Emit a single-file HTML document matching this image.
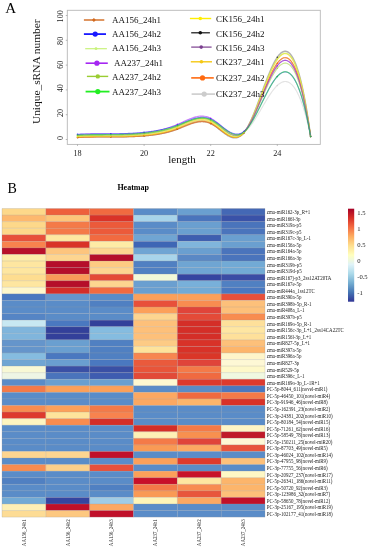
<!DOCTYPE html><html><head><meta charset="utf-8"><style>html,body{margin:0;padding:0;background:#fff;}body{width:369px;height:550px;overflow:hidden;position:relative;}svg{position:absolute;left:0;top:0;display:block;filter:blur(0.3px);}text{font-family:"Liberation Serif",serif;}</style></head><body>
<svg width="369" height="550" viewBox="0 0 369 550">
<rect x="0" y="0" width="369" height="550" fill="#fff"/>
<text transform="translate(5.3,13.4) scale(1.08,0.97)" font-size="14" fill="#000">A</text>
<text transform="translate(40.3,71.7) rotate(-90)" text-anchor="middle" font-size="11.4" fill="#111">Unique_sRNA number</text>
<rect x="67.3" y="10.3" width="253.0" height="134.1" fill="none" stroke="#b8b8b8" stroke-width="0.9"/>
<line x1="65.8" y1="139.50" x2="67.3" y2="139.50" stroke="#999" stroke-width="0.7"/>
<text transform="translate(63.3,138.00) rotate(-90)" text-anchor="middle" font-size="8.2" fill="#222">0</text>
<line x1="65.8" y1="114.70" x2="67.3" y2="114.70" stroke="#999" stroke-width="0.7"/>
<text transform="translate(63.3,112.90) rotate(-90)" text-anchor="middle" font-size="8.2" fill="#222">20</text>
<line x1="65.8" y1="89.90" x2="67.3" y2="89.90" stroke="#999" stroke-width="0.7"/>
<text transform="translate(63.3,88.20) rotate(-90)" text-anchor="middle" font-size="8.2" fill="#222">40</text>
<line x1="65.8" y1="65.10" x2="67.3" y2="65.10" stroke="#999" stroke-width="0.7"/>
<text transform="translate(63.3,64.70) rotate(-90)" text-anchor="middle" font-size="8.2" fill="#222">60</text>
<line x1="65.8" y1="40.30" x2="67.3" y2="40.30" stroke="#999" stroke-width="0.7"/>
<text transform="translate(63.3,40.80) rotate(-90)" text-anchor="middle" font-size="8.2" fill="#222">80</text>
<line x1="65.8" y1="15.50" x2="67.3" y2="15.50" stroke="#999" stroke-width="0.7"/>
<text transform="translate(63.3,16.30) rotate(-90)" text-anchor="middle" font-size="8.2" fill="#222">100</text>
<line x1="77.50" y1="144.4" x2="77.50" y2="145.9" stroke="#999" stroke-width="0.7"/>
<text x="77.50" y="156.3" text-anchor="middle" font-size="8.2" fill="#222">18</text>
<line x1="144.10" y1="144.4" x2="144.10" y2="145.9" stroke="#999" stroke-width="0.7"/>
<text x="144.10" y="156.3" text-anchor="middle" font-size="8.2" fill="#222">20</text>
<line x1="210.70" y1="144.4" x2="210.70" y2="145.9" stroke="#999" stroke-width="0.7"/>
<text x="210.70" y="156.3" text-anchor="middle" font-size="8.2" fill="#222">22</text>
<line x1="277.30" y1="144.4" x2="277.30" y2="145.9" stroke="#999" stroke-width="0.7"/>
<text x="277.30" y="156.3" text-anchor="middle" font-size="8.2" fill="#222">24</text>
<text x="168.3" y="162.6" font-size="11" fill="#111">length</text>
<path d="M77.50,137.39 L78.33,137.34 L79.17,137.29 L80.00,137.24 L80.83,137.20 L81.66,137.16 L82.49,137.12 L83.33,137.09 L84.16,137.05 L84.99,137.02 L85.83,136.99 L86.66,136.97 L87.49,136.94 L88.32,136.92 L89.16,136.90 L89.99,136.88 L90.82,136.86 L91.65,136.85 L92.48,136.84 L93.32,136.82 L94.15,136.81 L94.98,136.80 L95.82,136.80 L96.65,136.79 L97.48,136.78 L98.31,136.78 L99.14,136.78 L99.98,136.77 L100.81,136.77 L101.64,136.77 L102.47,136.77 L103.31,136.77 L104.14,136.77 L104.97,136.77 L105.81,136.77 L106.64,136.77 L107.47,136.77 L108.30,136.77 L109.13,136.77 L109.97,136.77 L110.80,136.77 L111.63,136.77 L112.47,136.77 L113.30,136.77 L114.13,136.77 L114.96,136.77 L115.79,136.76 L116.63,136.76 L117.46,136.75 L118.29,136.75 L119.12,136.74 L119.96,136.73 L120.79,136.73 L121.62,136.72 L122.46,136.71 L123.29,136.69 L124.12,136.68 L124.95,136.66 L125.78,136.65 L126.62,136.63 L127.45,136.61 L128.28,136.59 L129.12,136.57 L129.95,136.54 L130.78,136.51 L131.61,136.49 L132.44,136.46 L133.28,136.42 L134.11,136.39 L134.94,136.35 L135.77,136.31 L136.61,136.27 L137.44,136.23 L138.27,136.18 L139.11,136.13 L139.94,136.08 L140.77,136.02 L141.60,135.97 L142.43,135.91 L143.27,135.85 L144.10,135.78 L144.93,135.71 L145.77,135.64 L146.60,135.56 L147.43,135.49 L148.26,135.40 L149.09,135.32 L149.93,135.23 L150.76,135.13 L151.59,135.04 L152.43,134.93 L153.26,134.83 L154.09,134.71 L154.92,134.60 L155.76,134.48 L156.59,134.35 L157.42,134.21 L158.25,134.08 L159.08,133.93 L159.92,133.78 L160.75,133.63 L161.58,133.46 L162.42,133.29 L163.25,133.12 L164.08,132.94 L164.91,132.75 L165.74,132.55 L166.58,132.35 L167.41,132.13 L168.24,131.92 L169.07,131.69 L169.91,131.45 L170.74,131.21 L171.57,130.96 L172.41,130.70 L173.24,130.43 L174.07,130.16 L174.90,129.87 L175.73,129.58 L176.57,129.27 L177.40,128.96 L178.23,128.64 L179.06,128.31 L179.90,127.97 L180.73,127.63 L181.56,127.28 L182.39,126.93 L183.23,126.58 L184.06,126.23 L184.89,125.88 L185.72,125.53 L186.56,125.19 L187.39,124.85 L188.22,124.53 L189.06,124.20 L189.89,123.89 L190.72,123.59 L191.55,123.31 L192.38,123.03 L193.22,122.78 L194.05,122.54 L194.88,122.31 L195.72,122.11 L196.55,121.93 L197.38,121.77 L198.21,121.63 L199.04,121.52 L199.88,121.44 L200.71,121.38 L201.54,121.35 L202.38,121.36 L203.21,121.39 L204.04,121.46 L204.87,121.56 L205.71,121.70 L206.54,121.88 L207.37,122.10 L208.20,122.35 L209.03,122.65 L209.87,122.99 L210.70,123.38 L211.53,123.81 L212.37,124.28 L213.20,124.79 L214.03,125.34 L214.86,125.91 L215.69,126.51 L216.53,127.13 L217.36,127.77 L218.19,128.42 L219.02,129.08 L219.86,129.74 L220.69,130.41 L221.52,131.07 L222.36,131.73 L223.19,132.37 L224.02,133.00 L224.85,133.60 L225.68,134.19 L226.52,134.74 L227.35,135.27 L228.18,135.75 L229.02,136.20 L229.85,136.60 L230.68,136.96 L231.51,137.26 L232.34,137.51 L233.18,137.69 L234.01,137.81 L234.84,137.86 L235.67,137.84 L236.51,137.74 L237.34,137.55 L238.17,137.29 L239.01,136.93 L239.84,136.48 L240.67,135.93 L241.50,135.28 L242.33,134.53 L243.17,133.66 L244.00,132.68 L244.83,131.58 L245.67,130.37 L246.50,129.06 L247.33,127.64 L248.16,126.13 L248.99,124.52 L249.83,122.84 L250.66,121.07 L251.49,119.23 L252.32,117.33 L253.16,115.36 L253.99,113.34 L254.82,111.27 L255.66,109.15 L256.49,107.00 L257.32,104.81 L258.15,102.60 L258.98,100.36 L259.82,98.11 L260.65,95.85 L261.48,93.58 L262.31,91.32 L263.15,89.06 L263.98,86.82 L264.81,84.59 L265.64,82.39 L266.48,80.22 L267.31,78.08 L268.14,75.98 L268.98,73.94 L269.81,71.94 L270.64,70.00 L271.47,68.13 L272.31,66.33 L273.14,64.60 L273.97,62.95 L274.80,61.39 L275.63,59.92 L276.47,58.55 L277.30,57.29 L278.13,56.13 L278.97,55.09 L279.80,54.16 L280.63,53.36 L281.46,52.68 L282.29,52.13 L283.13,51.71 L283.96,51.42 L284.79,51.28 L285.62,51.28 L286.46,51.42 L287.29,51.72 L288.12,52.17 L288.96,52.78 L289.79,53.55 L290.62,54.49 L291.45,55.59 L292.28,56.87 L293.12,58.33 L293.95,59.97 L294.78,61.79 L295.62,63.80 L296.45,66.00 L297.28,68.40 L298.11,70.99 L298.94,73.79 L299.78,76.80 L300.61,80.02 L301.44,83.45 L302.27,87.10 L303.11,90.97 L303.94,95.06 L304.77,99.39 L305.61,103.95 L306.44,108.74 L307.27,113.78 L308.10,119.06 L308.93,124.59 L309.77,130.37 L310.60,136.40" fill="none" stroke="#111111" stroke-width="1.5" opacity="0.32"/>
<path d="M77.50,135.78 L78.33,135.74 L79.17,135.69 L80.00,135.66 L80.83,135.62 L81.66,135.59 L82.49,135.56 L83.33,135.53 L84.16,135.50 L84.99,135.47 L85.83,135.45 L86.66,135.43 L87.49,135.41 L88.32,135.40 L89.16,135.38 L89.99,135.37 L90.82,135.35 L91.65,135.34 L92.48,135.33 L93.32,135.32 L94.15,135.32 L94.98,135.31 L95.82,135.31 L96.65,135.30 L97.48,135.30 L98.31,135.30 L99.14,135.29 L99.98,135.29 L100.81,135.29 L101.64,135.29 L102.47,135.29 L103.31,135.29 L104.14,135.29 L104.97,135.29 L105.81,135.29 L106.64,135.29 L107.47,135.29 L108.30,135.29 L109.13,135.29 L109.97,135.29 L110.80,135.28 L111.63,135.28 L112.47,135.28 L113.30,135.27 L114.13,135.27 L114.96,135.26 L115.79,135.26 L116.63,135.25 L117.46,135.24 L118.29,135.23 L119.12,135.22 L119.96,135.20 L120.79,135.19 L121.62,135.17 L122.46,135.16 L123.29,135.14 L124.12,135.12 L124.95,135.10 L125.78,135.07 L126.62,135.04 L127.45,135.02 L128.28,134.99 L129.12,134.95 L129.95,134.92 L130.78,134.88 L131.61,134.84 L132.44,134.80 L133.28,134.76 L134.11,134.71 L134.94,134.66 L135.77,134.61 L136.61,134.55 L137.44,134.49 L138.27,134.43 L139.11,134.37 L139.94,134.30 L140.77,134.23 L141.60,134.16 L142.43,134.08 L143.27,134.00 L144.10,133.92 L144.93,133.83 L145.77,133.74 L146.60,133.65 L147.43,133.55 L148.26,133.45 L149.09,133.34 L149.93,133.23 L150.76,133.11 L151.59,132.99 L152.43,132.87 L153.26,132.74 L154.09,132.61 L154.92,132.47 L155.76,132.32 L156.59,132.17 L157.42,132.01 L158.25,131.85 L159.08,131.68 L159.92,131.51 L160.75,131.33 L161.58,131.15 L162.42,130.95 L163.25,130.75 L164.08,130.55 L164.91,130.33 L165.74,130.12 L166.58,129.89 L167.41,129.65 L168.24,129.41 L169.07,129.16 L169.91,128.91 L170.74,128.64 L171.57,128.37 L172.41,128.09 L173.24,127.80 L174.07,127.51 L174.90,127.20 L175.73,126.89 L176.57,126.56 L177.40,126.23 L178.23,125.89 L179.06,125.54 L179.90,125.19 L180.73,124.83 L181.56,124.47 L182.39,124.10 L183.23,123.74 L184.06,123.37 L184.89,123.01 L185.72,122.65 L186.56,122.29 L187.39,121.94 L188.22,121.60 L189.06,121.27 L189.89,120.95 L190.72,120.64 L191.55,120.34 L192.38,120.06 L193.22,119.79 L194.05,119.54 L194.88,119.31 L195.72,119.10 L196.55,118.91 L197.38,118.74 L198.21,118.60 L199.04,118.48 L199.88,118.39 L200.71,118.33 L201.54,118.29 L202.38,118.29 L203.21,118.32 L204.04,118.39 L204.87,118.49 L205.71,118.62 L206.54,118.79 L207.37,119.01 L208.20,119.26 L209.03,119.56 L209.87,119.90 L210.70,120.28 L211.53,120.71 L212.37,121.18 L213.20,121.69 L214.03,122.24 L214.86,122.81 L215.69,123.41 L216.53,124.04 L217.36,124.68 L218.19,125.34 L219.02,126.01 L219.86,126.69 L220.69,127.37 L221.52,128.05 L222.36,128.72 L223.19,129.39 L224.02,130.05 L224.85,130.69 L225.68,131.31 L226.52,131.90 L227.35,132.47 L228.18,133.01 L229.02,133.51 L229.85,133.97 L230.68,134.39 L231.51,134.77 L232.34,135.09 L233.18,135.35 L234.01,135.56 L234.84,135.71 L235.67,135.78 L236.51,135.79 L237.34,135.73 L238.17,135.58 L239.01,135.36 L239.84,135.04 L240.67,134.64 L241.50,134.15 L242.33,133.55 L243.17,132.86 L244.00,132.06 L244.83,131.15 L245.67,130.14 L246.50,129.03 L247.33,127.83 L248.16,126.53 L248.99,125.16 L249.83,123.70 L250.66,122.18 L251.49,120.58 L252.32,118.92 L253.16,117.21 L253.99,115.44 L254.82,113.63 L255.66,111.77 L256.49,109.88 L257.32,107.95 L258.15,106.00 L258.98,104.03 L259.82,102.04 L260.65,100.04 L261.48,98.03 L262.31,96.03 L263.15,94.03 L263.98,92.04 L264.81,90.06 L265.64,88.10 L266.48,86.17 L267.31,84.27 L268.14,82.41 L268.98,80.58 L269.81,78.80 L270.64,77.08 L271.47,75.40 L272.31,73.79 L273.14,72.25 L273.97,70.78 L274.80,69.39 L275.63,68.08 L276.47,66.85 L277.30,65.72 L278.13,64.69 L278.97,63.75 L279.80,62.92 L280.63,62.20 L281.46,61.59 L282.29,61.10 L283.13,60.72 L283.96,60.46 L284.79,60.33 L285.62,60.33 L286.46,60.46 L287.29,60.72 L288.12,61.12 L288.96,61.66 L289.79,62.35 L290.62,63.18 L291.45,64.17 L292.28,65.31 L293.12,66.61 L293.95,68.07 L294.78,69.70 L295.62,71.49 L296.45,73.46 L297.28,75.60 L298.11,77.92 L298.94,80.42 L299.78,83.10 L300.61,85.98 L301.44,89.05 L302.27,92.31 L303.11,95.77 L303.94,99.43 L304.77,103.30 L305.61,107.37 L306.44,111.66 L307.27,116.17 L308.10,120.89 L308.93,125.83 L309.77,131.00 L310.60,136.40" fill="none" stroke="#7b3f8f" stroke-width="1.1" opacity="0.55"/>
<path d="M77.50,137.64 L78.33,137.59 L79.17,137.54 L80.00,137.49 L80.83,137.45 L81.66,137.41 L82.49,137.37 L83.33,137.34 L84.16,137.31 L84.99,137.28 L85.83,137.25 L86.66,137.22 L87.49,137.20 L88.32,137.17 L89.16,137.15 L89.99,137.14 L90.82,137.12 L91.65,137.10 L92.48,137.09 L93.32,137.08 L94.15,137.07 L94.98,137.06 L95.82,137.05 L96.65,137.04 L97.48,137.04 L98.31,137.03 L99.14,137.03 L99.98,137.03 L100.81,137.02 L101.64,137.02 L102.47,137.02 L103.31,137.02 L104.14,137.02 L104.97,137.02 L105.81,137.02 L106.64,137.02 L107.47,137.02 L108.30,137.02 L109.13,137.02 L109.97,137.02 L110.80,137.02 L111.63,137.02 L112.47,137.02 L113.30,137.02 L114.13,137.01 L114.96,137.01 L115.79,137.01 L116.63,137.00 L117.46,137.00 L118.29,136.99 L119.12,136.99 L119.96,136.98 L120.79,136.97 L121.62,136.96 L122.46,136.95 L123.29,136.94 L124.12,136.92 L124.95,136.91 L125.78,136.89 L126.62,136.87 L127.45,136.85 L128.28,136.83 L129.12,136.81 L129.95,136.79 L130.78,136.76 L131.61,136.73 L132.44,136.70 L133.28,136.67 L134.11,136.63 L134.94,136.60 L135.77,136.56 L136.61,136.52 L137.44,136.47 L138.27,136.43 L139.11,136.38 L139.94,136.33 L140.77,136.27 L141.60,136.21 L142.43,136.16 L143.27,136.09 L144.10,136.03 L144.93,135.96 L145.77,135.89 L146.60,135.81 L147.43,135.74 L148.26,135.66 L149.09,135.57 L149.93,135.48 L150.76,135.39 L151.59,135.29 L152.43,135.19 L153.26,135.08 L154.09,134.97 L154.92,134.86 L155.76,134.74 L156.59,134.61 L157.42,134.48 L158.25,134.34 L159.08,134.20 L159.92,134.05 L160.75,133.90 L161.58,133.74 L162.42,133.57 L163.25,133.40 L164.08,133.22 L164.91,133.03 L165.74,132.84 L166.58,132.64 L167.41,132.43 L168.24,132.22 L169.07,132.00 L169.91,131.77 L170.74,131.53 L171.57,131.29 L172.41,131.03 L173.24,130.77 L174.07,130.50 L174.90,130.22 L175.73,129.93 L176.57,129.64 L177.40,129.33 L178.23,129.02 L179.06,128.70 L179.90,128.37 L180.73,128.03 L181.56,127.69 L182.39,127.35 L183.23,127.01 L184.06,126.67 L184.89,126.33 L185.72,125.99 L186.56,125.65 L187.39,125.33 L188.22,125.00 L189.06,124.69 L189.89,124.38 L190.72,124.09 L191.55,123.81 L192.38,123.54 L193.22,123.28 L194.05,123.04 L194.88,122.82 L195.72,122.62 L196.55,122.44 L197.38,122.27 L198.21,122.13 L199.04,122.02 L199.88,121.93 L200.71,121.86 L201.54,121.82 L202.38,121.82 L203.21,121.84 L204.04,121.89 L204.87,121.98 L205.71,122.10 L206.54,122.26 L207.37,122.45 L208.20,122.69 L209.03,122.96 L209.87,123.27 L210.70,123.63 L211.53,124.03 L212.37,124.46 L213.20,124.94 L214.03,125.44 L214.86,125.98 L215.69,126.54 L216.53,127.12 L217.36,127.71 L218.19,128.32 L219.02,128.94 L219.86,129.56 L220.69,130.19 L221.52,130.81 L222.36,131.43 L223.19,132.03 L224.02,132.62 L224.85,133.20 L225.68,133.75 L226.52,134.28 L227.35,134.78 L228.18,135.24 L229.02,135.67 L229.85,136.05 L230.68,136.40 L231.51,136.69 L232.34,136.93 L233.18,137.12 L234.01,137.24 L234.84,137.31 L235.67,137.30 L236.51,137.22 L237.34,137.07 L238.17,136.84 L239.01,136.52 L239.84,136.12 L240.67,135.63 L241.50,135.04 L242.33,134.36 L243.17,133.57 L244.00,132.68 L244.83,131.68 L245.67,130.57 L246.50,129.37 L247.33,128.07 L248.16,126.68 L248.99,125.21 L249.83,123.66 L250.66,122.04 L251.49,120.35 L252.32,118.60 L253.16,116.79 L253.99,114.93 L254.82,113.02 L255.66,111.07 L256.49,109.09 L257.32,107.07 L258.15,105.03 L258.98,102.97 L259.82,100.90 L260.65,98.81 L261.48,96.72 L262.31,94.64 L263.15,92.55 L263.98,90.48 L264.81,88.43 L265.64,86.40 L266.48,84.40 L267.31,82.42 L268.14,80.49 L268.98,78.60 L269.81,76.76 L270.64,74.97 L271.47,73.24 L272.31,71.58 L273.14,69.98 L273.97,68.46 L274.80,67.03 L275.63,65.67 L276.47,64.41 L277.30,63.24 L278.13,62.17 L278.97,61.21 L279.80,60.36 L280.63,59.62 L281.46,58.99 L282.29,58.48 L283.13,58.09 L283.96,57.83 L284.79,57.70 L285.62,57.70 L286.46,57.84 L287.29,58.11 L288.12,58.53 L288.96,59.10 L289.79,59.81 L290.62,60.68 L291.45,61.70 L292.28,62.89 L293.12,64.23 L293.95,65.75 L294.78,67.43 L295.62,69.29 L296.45,71.33 L297.28,73.54 L298.11,75.94 L298.94,78.53 L299.78,81.31 L300.61,84.28 L301.44,87.45 L302.27,90.83 L303.11,94.41 L303.94,98.19 L304.77,102.19 L305.61,106.40 L306.44,110.84 L307.27,115.49 L308.10,120.37 L308.93,125.48 L309.77,130.82 L310.60,136.40" fill="none" stroke="#D2691E" stroke-width="1.1" opacity="0.55"/>
<path d="M77.50,137.27 L78.33,137.23 L79.17,137.19 L80.00,137.16 L80.83,137.12 L81.66,137.09 L82.49,137.07 L83.33,137.04 L84.16,137.01 L84.99,136.99 L85.83,136.97 L86.66,136.95 L87.49,136.93 L88.32,136.92 L89.16,136.90 L89.99,136.89 L90.82,136.88 L91.65,136.87 L92.48,136.86 L93.32,136.85 L94.15,136.84 L94.98,136.83 L95.82,136.83 L96.65,136.82 L97.48,136.82 L98.31,136.81 L99.14,136.81 L99.98,136.80 L100.81,136.80 L101.64,136.80 L102.47,136.80 L103.31,136.80 L104.14,136.79 L104.97,136.79 L105.81,136.79 L106.64,136.79 L107.47,136.79 L108.30,136.78 L109.13,136.78 L109.97,136.78 L110.80,136.77 L111.63,136.77 L112.47,136.76 L113.30,136.76 L114.13,136.75 L114.96,136.74 L115.79,136.73 L116.63,136.72 L117.46,136.71 L118.29,136.70 L119.12,136.69 L119.96,136.68 L120.79,136.66 L121.62,136.64 L122.46,136.63 L123.29,136.61 L124.12,136.59 L124.95,136.57 L125.78,136.54 L126.62,136.52 L127.45,136.49 L128.28,136.46 L129.12,136.43 L129.95,136.40 L130.78,136.37 L131.61,136.33 L132.44,136.29 L133.28,136.26 L134.11,136.21 L134.94,136.17 L135.77,136.12 L136.61,136.08 L137.44,136.03 L138.27,135.97 L139.11,135.92 L139.94,135.86 L140.77,135.80 L141.60,135.74 L142.43,135.67 L143.27,135.60 L144.10,135.53 L144.93,135.46 L145.77,135.38 L146.60,135.30 L147.43,135.22 L148.26,135.13 L149.09,135.04 L149.93,134.95 L150.76,134.85 L151.59,134.75 L152.43,134.64 L153.26,134.53 L154.09,134.42 L154.92,134.30 L155.76,134.17 L156.59,134.04 L157.42,133.91 L158.25,133.77 L159.08,133.62 L159.92,133.47 L160.75,133.32 L161.58,133.15 L162.42,132.98 L163.25,132.81 L164.08,132.63 L164.91,132.44 L165.74,132.24 L166.58,132.04 L167.41,131.83 L168.24,131.62 L169.07,131.39 L169.91,131.16 L170.74,130.92 L171.57,130.68 L172.41,130.42 L173.24,130.16 L174.07,129.89 L174.90,129.61 L175.73,129.32 L176.57,129.02 L177.40,128.71 L178.23,128.40 L179.06,128.07 L179.90,127.74 L180.73,127.41 L181.56,127.07 L182.39,126.73 L183.23,126.39 L184.06,126.04 L184.89,125.70 L185.72,125.36 L186.56,125.03 L187.39,124.70 L188.22,124.38 L189.06,124.07 L189.89,123.76 L190.72,123.47 L191.55,123.19 L192.38,122.92 L193.22,122.67 L194.05,122.43 L194.88,122.21 L195.72,122.01 L196.55,121.83 L197.38,121.67 L198.21,121.54 L199.04,121.42 L199.88,121.34 L200.71,121.28 L201.54,121.25 L202.38,121.24 L203.21,121.27 L204.04,121.33 L204.87,121.43 L205.71,121.55 L206.54,121.72 L207.37,121.92 L208.20,122.16 L209.03,122.44 L209.87,122.77 L210.70,123.13 L211.53,123.54 L212.37,123.99 L213.20,124.47 L214.03,124.99 L214.86,125.54 L215.69,126.11 L216.53,126.70 L217.36,127.31 L218.19,127.93 L219.02,128.56 L219.86,129.20 L220.69,129.84 L221.52,130.47 L222.36,131.10 L223.19,131.72 L224.02,132.33 L224.85,132.92 L225.68,133.49 L226.52,134.03 L227.35,134.54 L228.18,135.02 L229.02,135.46 L229.85,135.86 L230.68,136.22 L231.51,136.52 L232.34,136.78 L233.18,136.98 L234.01,137.12 L234.84,137.19 L235.67,137.20 L236.51,137.13 L237.34,136.99 L238.17,136.77 L239.01,136.47 L239.84,136.08 L240.67,135.60 L241.50,135.02 L242.33,134.34 L243.17,133.56 L244.00,132.68 L244.83,131.69 L245.67,130.59 L246.50,129.39 L247.33,128.10 L248.16,126.71 L248.99,125.25 L249.83,123.70 L250.66,122.08 L251.49,120.40 L252.32,118.65 L253.16,116.84 L253.99,114.98 L254.82,113.08 L255.66,111.13 L256.49,109.14 L257.32,107.13 L258.15,105.09 L258.98,103.03 L259.82,100.95 L260.65,98.87 L261.48,96.78 L262.31,94.69 L263.15,92.60 L263.98,90.53 L264.81,88.48 L265.64,86.44 L266.48,84.44 L267.31,82.46 L268.14,80.53 L268.98,78.63 L269.81,76.79 L270.64,75.00 L271.47,73.27 L272.31,71.60 L273.14,70.00 L273.97,68.48 L274.80,67.03 L275.63,65.68 L276.47,64.41 L277.30,63.24 L278.13,62.17 L278.97,61.21 L279.80,60.35 L280.63,59.60 L281.46,58.97 L282.29,58.46 L283.13,58.07 L283.96,57.81 L284.79,57.68 L285.62,57.67 L286.46,57.81 L287.29,58.08 L288.12,58.50 L288.96,59.06 L289.79,59.77 L290.62,60.64 L291.45,61.66 L292.28,62.84 L293.12,64.19 L293.95,65.70 L294.78,67.39 L295.62,69.25 L296.45,71.28 L297.28,73.50 L298.11,75.90 L298.94,78.49 L299.78,81.27 L300.61,84.24 L301.44,87.42 L302.27,90.79 L303.11,94.37 L303.94,98.16 L304.77,102.16 L305.61,106.38 L306.44,110.81 L307.27,115.47 L308.10,120.36 L308.93,125.47 L309.77,130.82 L310.60,136.40" fill="none" stroke="#ff6a10" stroke-width="1.1" opacity="0.55"/>
<path d="M77.50,137.02 L78.33,136.98 L79.17,136.94 L80.00,136.90 L80.83,136.86 L81.66,136.83 L82.49,136.80 L83.33,136.77 L84.16,136.75 L84.99,136.72 L85.83,136.70 L86.66,136.68 L87.49,136.66 L88.32,136.64 L89.16,136.63 L89.99,136.61 L90.82,136.60 L91.65,136.59 L92.48,136.58 L93.32,136.57 L94.15,136.57 L94.98,136.56 L95.82,136.55 L96.65,136.55 L97.48,136.54 L98.31,136.54 L99.14,136.54 L99.98,136.54 L100.81,136.54 L101.64,136.53 L102.47,136.53 L103.31,136.53 L104.14,136.53 L104.97,136.53 L105.81,136.53 L106.64,136.53 L107.47,136.53 L108.30,136.53 L109.13,136.53 L109.97,136.53 L110.80,136.52 L111.63,136.52 L112.47,136.52 L113.30,136.51 L114.13,136.51 L114.96,136.50 L115.79,136.50 L116.63,136.49 L117.46,136.48 L118.29,136.47 L119.12,136.46 L119.96,136.45 L120.79,136.43 L121.62,136.42 L122.46,136.40 L123.29,136.38 L124.12,136.36 L124.95,136.34 L125.78,136.32 L126.62,136.30 L127.45,136.27 L128.28,136.24 L129.12,136.21 L129.95,136.18 L130.78,136.15 L131.61,136.11 L132.44,136.07 L133.28,136.03 L134.11,135.99 L134.94,135.95 L135.77,135.90 L136.61,135.85 L137.44,135.80 L138.27,135.74 L139.11,135.69 L139.94,135.63 L140.77,135.56 L141.60,135.50 L142.43,135.43 L143.27,135.36 L144.10,135.28 L144.93,135.21 L145.77,135.13 L146.60,135.04 L147.43,134.95 L148.26,134.86 L149.09,134.77 L149.93,134.67 L150.76,134.56 L151.59,134.46 L152.43,134.34 L153.26,134.23 L154.09,134.10 L154.92,133.98 L155.76,133.85 L156.59,133.71 L157.42,133.57 L158.25,133.42 L159.08,133.26 L159.92,133.10 L160.75,132.94 L161.58,132.76 L162.42,132.59 L163.25,132.40 L164.08,132.21 L164.91,132.01 L165.74,131.80 L166.58,131.59 L167.41,131.37 L168.24,131.14 L169.07,130.91 L169.91,130.66 L170.74,130.41 L171.57,130.15 L172.41,129.88 L173.24,129.61 L174.07,129.32 L174.90,129.03 L175.73,128.72 L176.57,128.41 L177.40,128.09 L178.23,127.76 L179.06,127.42 L179.90,127.08 L180.73,126.73 L181.56,126.37 L182.39,126.02 L183.23,125.66 L184.06,125.30 L184.89,124.95 L185.72,124.60 L186.56,124.25 L187.39,123.91 L188.22,123.57 L189.06,123.25 L189.89,122.93 L190.72,122.63 L191.55,122.34 L192.38,122.06 L193.22,121.80 L194.05,121.55 L194.88,121.33 L195.72,121.12 L196.55,120.94 L197.38,120.77 L198.21,120.63 L199.04,120.52 L199.88,120.44 L200.71,120.38 L201.54,120.35 L202.38,120.35 L203.21,120.39 L204.04,120.46 L204.87,120.56 L205.71,120.70 L206.54,120.88 L207.37,121.10 L208.20,121.35 L209.03,121.66 L209.87,122.00 L210.70,122.39 L211.53,122.82 L212.37,123.30 L213.20,123.81 L214.03,124.36 L214.86,124.94 L215.69,125.55 L216.53,126.17 L217.36,126.82 L218.19,127.48 L219.02,128.14 L219.86,128.82 L220.69,129.49 L221.52,130.17 L222.36,130.83 L223.19,131.49 L224.02,132.13 L224.85,132.75 L225.68,133.35 L226.52,133.92 L227.35,134.46 L228.18,134.97 L229.02,135.44 L229.85,135.86 L230.68,136.24 L231.51,136.57 L232.34,136.84 L233.18,137.05 L234.01,137.20 L234.84,137.28 L235.67,137.29 L236.51,137.22 L237.34,137.08 L238.17,136.85 L239.01,136.53 L239.84,136.12 L240.67,135.62 L241.50,135.01 L242.33,134.30 L243.17,133.49 L244.00,132.56 L244.83,131.51 L245.67,130.36 L246.50,129.10 L247.33,127.74 L248.16,126.29 L248.99,124.74 L249.83,123.12 L250.66,121.42 L251.49,119.65 L252.32,117.81 L253.16,115.91 L253.99,113.95 L254.82,111.95 L255.66,109.90 L256.49,107.81 L257.32,105.70 L258.15,103.55 L258.98,101.38 L259.82,99.20 L260.65,97.01 L261.48,94.81 L262.31,92.61 L263.15,90.42 L263.98,88.24 L264.81,86.07 L265.64,83.94 L266.48,81.82 L267.31,79.75 L268.14,77.71 L268.98,75.72 L269.81,73.78 L270.64,71.89 L271.47,70.07 L272.31,68.32 L273.14,66.64 L273.97,65.03 L274.80,63.51 L275.63,62.09 L276.47,60.75 L277.30,59.52 L278.13,58.39 L278.97,57.38 L279.80,56.48 L280.63,55.69 L281.46,55.03 L282.29,54.49 L283.13,54.08 L283.96,53.80 L284.79,53.66 L285.62,53.65 L286.46,53.79 L287.29,54.08 L288.12,54.51 L288.96,55.11 L289.79,55.85 L290.62,56.76 L291.45,57.84 L292.28,59.08 L293.12,60.49 L293.95,62.08 L294.78,63.85 L295.62,65.80 L296.45,67.94 L297.28,70.27 L298.11,72.80 L298.94,75.52 L299.78,78.44 L300.61,81.57 L301.44,84.90 L302.27,88.45 L303.11,92.21 L303.94,96.20 L304.77,100.40 L305.61,104.84 L306.44,109.50 L307.27,114.40 L308.10,119.53 L308.93,124.91 L309.77,130.53 L310.60,136.40" fill="none" stroke="#f5c814" stroke-width="1.1" opacity="0.55"/>
<path d="M77.50,136.28 L78.33,136.23 L79.17,136.18 L80.00,136.14 L80.83,136.10 L81.66,136.07 L82.49,136.03 L83.33,136.00 L84.16,135.97 L84.99,135.95 L85.83,135.92 L86.66,135.90 L87.49,135.88 L88.32,135.86 L89.16,135.84 L89.99,135.83 L90.82,135.82 L91.65,135.81 L92.48,135.79 L93.32,135.79 L94.15,135.78 L94.98,135.77 L95.82,135.77 L96.65,135.76 L97.48,135.76 L98.31,135.76 L99.14,135.76 L99.98,135.76 L100.81,135.76 L101.64,135.76 L102.47,135.76 L103.31,135.76 L104.14,135.76 L104.97,135.77 L105.81,135.77 L106.64,135.77 L107.47,135.77 L108.30,135.77 L109.13,135.78 L109.97,135.78 L110.80,135.78 L111.63,135.78 L112.47,135.78 L113.30,135.78 L114.13,135.78 L114.96,135.78 L115.79,135.78 L116.63,135.77 L117.46,135.77 L118.29,135.76 L119.12,135.75 L119.96,135.75 L120.79,135.74 L121.62,135.72 L122.46,135.71 L123.29,135.70 L124.12,135.68 L124.95,135.66 L125.78,135.64 L126.62,135.62 L127.45,135.60 L128.28,135.57 L129.12,135.54 L129.95,135.51 L130.78,135.48 L131.61,135.44 L132.44,135.40 L133.28,135.36 L134.11,135.32 L134.94,135.27 L135.77,135.22 L136.61,135.17 L137.44,135.11 L138.27,135.05 L139.11,134.99 L139.94,134.92 L140.77,134.85 L141.60,134.78 L142.43,134.70 L143.27,134.62 L144.10,134.54 L144.93,134.45 L145.77,134.36 L146.60,134.26 L147.43,134.16 L148.26,134.06 L149.09,133.95 L149.93,133.84 L150.76,133.72 L151.59,133.60 L152.43,133.47 L153.26,133.34 L154.09,133.20 L154.92,133.06 L155.76,132.91 L156.59,132.76 L157.42,132.61 L158.25,132.45 L159.08,132.28 L159.92,132.11 L160.75,131.93 L161.58,131.75 L162.42,131.56 L163.25,131.36 L164.08,131.16 L164.91,130.95 L165.74,130.74 L166.58,130.52 L167.41,130.30 L168.24,130.07 L169.07,129.83 L169.91,129.59 L170.74,129.34 L171.57,129.08 L172.41,128.82 L173.24,128.55 L174.07,128.27 L174.90,127.99 L175.73,127.70 L176.57,127.40 L177.40,127.10 L178.23,126.79 L179.06,126.47 L179.90,126.15 L180.73,125.82 L181.56,125.49 L182.39,125.16 L183.23,124.83 L184.06,124.50 L184.89,124.18 L185.72,123.85 L186.56,123.53 L187.39,123.22 L188.22,122.91 L189.06,122.61 L189.89,122.31 L190.72,122.03 L191.55,121.76 L192.38,121.50 L193.22,121.25 L194.05,121.02 L194.88,120.80 L195.72,120.60 L196.55,120.42 L197.38,120.26 L198.21,120.12 L199.04,119.99 L199.88,119.89 L200.71,119.82 L201.54,119.77 L202.38,119.74 L203.21,119.74 L204.04,119.77 L204.87,119.83 L205.71,119.92 L206.54,120.04 L207.37,120.19 L208.20,120.38 L209.03,120.60 L209.87,120.85 L210.70,121.15 L211.53,121.48 L212.37,121.85 L213.20,122.25 L214.03,122.67 L214.86,123.13 L215.69,123.61 L216.53,124.10 L217.36,124.62 L218.19,125.15 L219.02,125.69 L219.86,126.24 L220.69,126.79 L221.52,127.35 L222.36,127.90 L223.19,128.46 L224.02,129.00 L224.85,129.54 L225.68,130.06 L226.52,130.57 L227.35,131.06 L228.18,131.52 L229.02,131.97 L229.85,132.38 L230.68,132.77 L231.51,133.12 L232.34,133.43 L233.18,133.71 L234.01,133.94 L234.84,134.12 L235.67,134.26 L236.51,134.35 L237.34,134.38 L238.17,134.35 L239.01,134.27 L239.84,134.12 L240.67,133.90 L241.50,133.61 L242.33,133.25 L243.17,132.82 L244.00,132.31 L244.83,131.71 L245.67,131.04 L246.50,130.30 L247.33,129.48 L248.16,128.60 L248.99,127.66 L249.83,126.66 L250.66,125.60 L251.49,124.49 L252.32,123.33 L253.16,122.14 L253.99,120.90 L254.82,119.62 L255.66,118.31 L256.49,116.98 L257.32,115.62 L258.15,114.23 L258.98,112.84 L259.82,111.42 L260.65,110.00 L261.48,108.58 L262.31,107.15 L263.15,105.72 L263.98,104.30 L264.81,102.89 L265.64,101.49 L266.48,100.11 L267.31,98.75 L268.14,97.41 L268.98,96.11 L269.81,94.83 L270.64,93.59 L271.47,92.39 L272.31,91.24 L273.14,90.13 L273.97,89.07 L274.80,88.07 L275.63,87.13 L276.47,86.25 L277.30,85.44 L278.13,84.69 L278.97,84.02 L279.80,83.43 L280.63,82.91 L281.46,82.47 L282.29,82.11 L283.13,81.84 L283.96,81.66 L284.79,81.56 L285.62,81.56 L286.46,81.65 L287.29,81.84 L288.12,82.13 L288.96,82.52 L289.79,83.01 L290.62,83.62 L291.45,84.33 L292.28,85.15 L293.12,86.08 L293.95,87.14 L294.78,88.31 L295.62,89.60 L296.45,91.02 L297.28,92.56 L298.11,94.23 L298.94,96.04 L299.78,97.97 L300.61,100.04 L301.44,102.25 L302.27,104.61 L303.11,107.10 L303.94,109.74 L304.77,112.53 L305.61,115.47 L306.44,118.56 L307.27,121.81 L308.10,125.21 L308.93,128.78 L309.77,132.51 L310.60,136.40" fill="none" stroke="#cccccc" stroke-width="1.1" opacity="0.55"/>
<path d="M77.50,136.52 L78.33,136.48 L79.17,136.44 L80.00,136.40 L80.83,136.37 L81.66,136.33 L82.49,136.30 L83.33,136.27 L84.16,136.25 L84.99,136.22 L85.83,136.20 L86.66,136.18 L87.49,136.16 L88.32,136.14 L89.16,136.13 L89.99,136.11 L90.82,136.10 L91.65,136.09 L92.48,136.08 L93.32,136.07 L94.15,136.06 L94.98,136.06 L95.82,136.05 L96.65,136.05 L97.48,136.04 L98.31,136.04 L99.14,136.04 L99.98,136.04 L100.81,136.04 L101.64,136.04 L102.47,136.03 L103.31,136.03 L104.14,136.03 L104.97,136.03 L105.81,136.03 L106.64,136.03 L107.47,136.03 L108.30,136.03 L109.13,136.03 L109.97,136.03 L110.80,136.03 L111.63,136.03 L112.47,136.02 L113.30,136.02 L114.13,136.01 L114.96,136.01 L115.79,136.00 L116.63,135.99 L117.46,135.98 L118.29,135.98 L119.12,135.96 L119.96,135.95 L120.79,135.94 L121.62,135.92 L122.46,135.91 L123.29,135.89 L124.12,135.87 L124.95,135.85 L125.78,135.83 L126.62,135.80 L127.45,135.78 L128.28,135.75 L129.12,135.72 L129.95,135.69 L130.78,135.66 L131.61,135.62 L132.44,135.58 L133.28,135.54 L134.11,135.50 L134.94,135.45 L135.77,135.41 L136.61,135.36 L137.44,135.30 L138.27,135.25 L139.11,135.19 L139.94,135.13 L140.77,135.07 L141.60,135.00 L142.43,134.93 L143.27,134.86 L144.10,134.79 L144.93,134.71 L145.77,134.63 L146.60,134.54 L147.43,134.46 L148.26,134.36 L149.09,134.27 L149.93,134.17 L150.76,134.06 L151.59,133.96 L152.43,133.84 L153.26,133.72 L154.09,133.60 L154.92,133.47 L155.76,133.34 L156.59,133.20 L157.42,133.06 L158.25,132.91 L159.08,132.75 L159.92,132.59 L160.75,132.42 L161.58,132.24 L162.42,132.06 L163.25,131.87 L164.08,131.68 L164.91,131.48 L165.74,131.27 L166.58,131.05 L167.41,130.83 L168.24,130.59 L169.07,130.35 L169.91,130.10 L170.74,129.85 L171.57,129.58 L172.41,129.31 L173.24,129.02 L174.07,128.73 L174.90,128.43 L175.73,128.12 L176.57,127.80 L177.40,127.47 L178.23,127.13 L179.06,126.79 L179.90,126.43 L180.73,126.07 L181.56,125.71 L182.39,125.34 L183.23,124.97 L184.06,124.61 L184.89,124.24 L185.72,123.88 L186.56,123.52 L187.39,123.17 L188.22,122.82 L189.06,122.49 L189.89,122.16 L190.72,121.85 L191.55,121.54 L192.38,121.26 L193.22,120.99 L194.05,120.73 L194.88,120.50 L195.72,120.28 L196.55,120.09 L197.38,119.92 L198.21,119.78 L199.04,119.66 L199.88,119.57 L200.71,119.50 L201.54,119.47 L202.38,119.47 L203.21,119.50 L204.04,119.57 L204.87,119.67 L205.71,119.81 L206.54,119.99 L207.37,120.21 L208.20,120.47 L209.03,120.78 L209.87,121.13 L210.70,121.52 L211.53,121.96 L212.37,122.45 L213.20,122.97 L214.03,123.53 L214.86,124.12 L215.69,124.74 L216.53,125.37 L217.36,126.03 L218.19,126.71 L219.02,127.39 L219.86,128.08 L220.69,128.77 L221.52,129.46 L222.36,130.14 L223.19,130.82 L224.02,131.47 L224.85,132.11 L225.68,132.73 L226.52,133.32 L227.35,133.89 L228.18,134.41 L229.02,134.90 L229.85,135.34 L230.68,135.74 L231.51,136.08 L232.34,136.37 L233.18,136.60 L234.01,136.77 L234.84,136.87 L235.67,136.90 L236.51,136.85 L237.34,136.72 L238.17,136.51 L239.01,136.20 L239.84,135.81 L240.67,135.32 L241.50,134.73 L242.33,134.03 L243.17,133.23 L244.00,132.31 L244.83,131.27 L245.67,130.13 L246.50,128.88 L247.33,127.53 L248.16,126.08 L248.99,124.54 L249.83,122.93 L250.66,121.23 L251.49,119.46 L252.32,117.62 L253.16,115.73 L253.99,113.77 L254.82,111.77 L255.66,109.72 L256.49,107.64 L257.32,105.52 L258.15,103.37 L258.98,101.20 L259.82,99.02 L260.65,96.82 L261.48,94.62 L262.31,92.42 L263.15,90.23 L263.98,88.05 L264.81,85.88 L265.64,83.74 L266.48,81.62 L267.31,79.54 L268.14,77.50 L268.98,75.51 L269.81,73.56 L270.64,71.67 L271.47,69.85 L272.31,68.09 L273.14,66.40 L273.97,64.80 L274.80,63.28 L275.63,61.84 L276.47,60.51 L277.30,59.27 L278.13,58.14 L278.97,57.12 L279.80,56.22 L280.63,55.43 L281.46,54.77 L282.29,54.23 L283.13,53.82 L283.96,53.54 L284.79,53.40 L285.62,53.39 L286.46,53.53 L287.29,53.82 L288.12,54.26 L288.96,54.85 L289.79,55.60 L290.62,56.51 L291.45,57.59 L292.28,58.84 L293.12,60.26 L293.95,61.85 L294.78,63.63 L295.62,65.58 L296.45,67.73 L297.28,70.07 L298.11,72.60 L298.94,75.33 L299.78,78.26 L300.61,81.40 L301.44,84.74 L302.27,88.30 L303.11,92.08 L303.94,96.07 L304.77,100.29 L305.61,104.74 L306.44,109.42 L307.27,114.33 L308.10,119.48 L308.93,124.87 L309.77,130.51 L310.60,136.40" fill="none" stroke="#ffee00" stroke-width="1.1" opacity="0.55"/>
<path d="M77.50,135.78 L78.33,135.74 L79.17,135.71 L80.00,135.67 L80.83,135.64 L81.66,135.61 L82.49,135.58 L83.33,135.56 L84.16,135.54 L84.99,135.51 L85.83,135.49 L86.66,135.48 L87.49,135.46 L88.32,135.44 L89.16,135.43 L89.99,135.42 L90.82,135.40 L91.65,135.39 L92.48,135.38 L93.32,135.38 L94.15,135.37 L94.98,135.36 L95.82,135.36 L96.65,135.35 L97.48,135.35 L98.31,135.34 L99.14,135.34 L99.98,135.33 L100.81,135.33 L101.64,135.33 L102.47,135.33 L103.31,135.32 L104.14,135.32 L104.97,135.32 L105.81,135.31 L106.64,135.31 L107.47,135.31 L108.30,135.30 L109.13,135.30 L109.97,135.29 L110.80,135.28 L111.63,135.28 L112.47,135.27 L113.30,135.26 L114.13,135.25 L114.96,135.24 L115.79,135.23 L116.63,135.22 L117.46,135.20 L118.29,135.19 L119.12,135.17 L119.96,135.15 L120.79,135.13 L121.62,135.11 L122.46,135.09 L123.29,135.07 L124.12,135.04 L124.95,135.01 L125.78,134.98 L126.62,134.95 L127.45,134.92 L128.28,134.89 L129.12,134.85 L129.95,134.81 L130.78,134.77 L131.61,134.73 L132.44,134.68 L133.28,134.64 L134.11,134.59 L134.94,134.54 L135.77,134.48 L136.61,134.43 L137.44,134.37 L138.27,134.30 L139.11,134.24 L139.94,134.17 L140.77,134.10 L141.60,134.03 L142.43,133.96 L143.27,133.88 L144.10,133.80 L144.93,133.71 L145.77,133.62 L146.60,133.53 L147.43,133.44 L148.26,133.34 L149.09,133.24 L149.93,133.13 L150.76,133.02 L151.59,132.91 L152.43,132.79 L153.26,132.66 L154.09,132.54 L154.92,132.40 L155.76,132.26 L156.59,132.12 L157.42,131.97 L158.25,131.81 L159.08,131.65 L159.92,131.48 L160.75,131.31 L161.58,131.12 L162.42,130.94 L163.25,130.74 L164.08,130.54 L164.91,130.33 L165.74,130.12 L166.58,129.89 L167.41,129.66 L168.24,129.42 L169.07,129.18 L169.91,128.92 L170.74,128.66 L171.57,128.39 L172.41,128.11 L173.24,127.82 L174.07,127.52 L174.90,127.21 L175.73,126.89 L176.57,126.57 L177.40,126.23 L178.23,125.89 L179.06,125.53 L179.90,125.17 L180.73,124.80 L181.56,124.43 L182.39,124.06 L183.23,123.69 L184.06,123.31 L184.89,122.94 L185.72,122.57 L186.56,122.21 L187.39,121.85 L188.22,121.50 L189.06,121.16 L189.89,120.83 L190.72,120.51 L191.55,120.20 L192.38,119.91 L193.22,119.64 L194.05,119.38 L194.88,119.15 L195.72,118.93 L196.55,118.74 L197.38,118.57 L198.21,118.42 L199.04,118.31 L199.88,118.22 L200.71,118.16 L201.54,118.13 L202.38,118.13 L203.21,118.17 L204.04,118.24 L204.87,118.35 L205.71,118.50 L206.54,118.69 L207.37,118.92 L208.20,119.19 L209.03,119.51 L209.87,119.87 L210.70,120.28 L211.53,120.74 L212.37,121.24 L213.20,121.78 L214.03,122.36 L214.86,122.97 L215.69,123.61 L216.53,124.27 L217.36,124.95 L218.19,125.65 L219.02,126.35 L219.86,127.07 L220.69,127.78 L221.52,128.50 L222.36,129.21 L223.19,129.91 L224.02,130.60 L224.85,131.27 L225.68,131.91 L226.52,132.53 L227.35,133.12 L228.18,133.67 L229.02,134.19 L229.85,134.66 L230.68,135.09 L231.51,135.46 L232.34,135.78 L233.18,136.04 L234.01,136.23 L234.84,136.36 L235.67,136.41 L236.51,136.39 L237.34,136.29 L238.17,136.10 L239.01,135.82 L239.84,135.45 L240.67,134.98 L241.50,134.42 L242.33,133.74 L243.17,132.96 L244.00,132.06 L244.83,131.05 L245.67,129.92 L246.50,128.68 L247.33,127.35 L248.16,125.92 L248.99,124.40 L249.83,122.79 L250.66,121.11 L251.49,119.35 L252.32,117.53 L253.16,115.64 L253.99,113.70 L254.82,111.70 L255.66,109.67 L256.49,107.59 L257.32,105.48 L258.15,103.34 L258.98,101.17 L259.82,98.99 L260.65,96.80 L261.48,94.61 L262.31,92.41 L263.15,90.22 L263.98,88.04 L264.81,85.88 L265.64,83.74 L266.48,81.62 L267.31,79.55 L268.14,77.51 L268.98,75.51 L269.81,73.57 L270.64,71.68 L271.47,69.85 L272.31,68.09 L273.14,66.41 L273.97,64.80 L274.80,63.28 L275.63,61.85 L276.47,60.51 L277.30,59.27 L278.13,58.14 L278.97,57.12 L279.80,56.22 L280.63,55.43 L281.46,54.76 L282.29,54.22 L283.13,53.81 L283.96,53.53 L284.79,53.39 L285.62,53.38 L286.46,53.52 L287.29,53.81 L288.12,54.24 L288.96,54.84 L289.79,55.58 L290.62,56.50 L291.45,57.57 L292.28,58.82 L293.12,60.24 L293.95,61.83 L294.78,63.60 L295.62,65.56 L296.45,67.71 L297.28,70.05 L298.11,72.58 L298.94,75.31 L299.78,78.24 L300.61,81.38 L301.44,84.72 L302.27,88.28 L303.11,92.06 L303.94,96.05 L304.77,100.28 L305.61,104.72 L306.44,109.40 L307.27,114.32 L308.10,119.47 L308.93,124.87 L309.77,130.51 L310.60,136.40" fill="none" stroke="#c8f27a" stroke-width="1.1" opacity="0.55"/>
<path d="M77.50,135.53 L78.33,135.50 L79.17,135.46 L80.00,135.43 L80.83,135.40 L81.66,135.37 L82.49,135.35 L83.33,135.32 L84.16,135.30 L84.99,135.28 L85.83,135.26 L86.66,135.24 L87.49,135.22 L88.32,135.21 L89.16,135.19 L89.99,135.18 L90.82,135.17 L91.65,135.16 L92.48,135.15 L93.32,135.14 L94.15,135.13 L94.98,135.13 L95.82,135.12 L96.65,135.11 L97.48,135.11 L98.31,135.10 L99.14,135.10 L99.98,135.10 L100.81,135.09 L101.64,135.09 L102.47,135.09 L103.31,135.08 L104.14,135.08 L104.97,135.07 L105.81,135.07 L106.64,135.07 L107.47,135.06 L108.30,135.06 L109.13,135.05 L109.97,135.04 L110.80,135.04 L111.63,135.03 L112.47,135.02 L113.30,135.01 L114.13,135.00 L114.96,134.99 L115.79,134.98 L116.63,134.96 L117.46,134.95 L118.29,134.93 L119.12,134.91 L119.96,134.90 L120.79,134.88 L121.62,134.85 L122.46,134.83 L123.29,134.81 L124.12,134.78 L124.95,134.75 L125.78,134.73 L126.62,134.69 L127.45,134.66 L128.28,134.63 L129.12,134.59 L129.95,134.55 L130.78,134.51 L131.61,134.47 L132.44,134.43 L133.28,134.38 L134.11,134.33 L134.94,134.28 L135.77,134.22 L136.61,134.17 L137.44,134.11 L138.27,134.05 L139.11,133.99 L139.94,133.92 L140.77,133.85 L141.60,133.78 L142.43,133.71 L143.27,133.63 L144.10,133.55 L144.93,133.47 L145.77,133.38 L146.60,133.29 L147.43,133.20 L148.26,133.10 L149.09,133.00 L149.93,132.90 L150.76,132.79 L151.59,132.68 L152.43,132.56 L153.26,132.44 L154.09,132.31 L154.92,132.18 L155.76,132.05 L156.59,131.90 L157.42,131.76 L158.25,131.61 L159.08,131.45 L159.92,131.29 L160.75,131.12 L161.58,130.94 L162.42,130.76 L163.25,130.57 L164.08,130.38 L164.91,130.18 L165.74,129.97 L166.58,129.75 L167.41,129.53 L168.24,129.30 L169.07,129.06 L169.91,128.82 L170.74,128.56 L171.57,128.30 L172.41,128.03 L173.24,127.75 L174.07,127.47 L174.90,127.17 L175.73,126.87 L176.57,126.55 L177.40,126.23 L178.23,125.90 L179.06,125.56 L179.90,125.22 L180.73,124.86 L181.56,124.51 L182.39,124.15 L183.23,123.79 L184.06,123.44 L184.89,123.08 L185.72,122.72 L186.56,122.38 L187.39,122.03 L188.22,121.69 L189.06,121.37 L189.89,121.05 L190.72,120.74 L191.55,120.45 L192.38,120.17 L193.22,119.90 L194.05,119.65 L194.88,119.42 L195.72,119.21 L196.55,119.02 L197.38,118.85 L198.21,118.71 L199.04,118.59 L199.88,118.49 L200.71,118.43 L201.54,118.39 L202.38,118.38 L203.21,118.41 L204.04,118.46 L204.87,118.56 L205.71,118.68 L206.54,118.85 L207.37,119.05 L208.20,119.30 L209.03,119.58 L209.87,119.91 L210.70,120.28 L211.53,120.70 L212.37,121.15 L213.20,121.65 L214.03,122.18 L214.86,122.74 L215.69,123.32 L216.53,123.93 L217.36,124.56 L218.19,125.20 L219.02,125.86 L219.86,126.52 L220.69,127.19 L221.52,127.85 L222.36,128.51 L223.19,129.17 L224.02,129.81 L224.85,130.44 L225.68,131.05 L226.52,131.64 L227.35,132.20 L228.18,132.73 L229.02,133.23 L229.85,133.68 L230.68,134.10 L231.51,134.47 L232.34,134.80 L233.18,135.07 L234.01,135.28 L234.84,135.44 L235.67,135.52 L236.51,135.55 L237.34,135.50 L238.17,135.37 L239.01,135.16 L239.84,134.88 L240.67,134.50 L241.50,134.04 L242.33,133.48 L243.17,132.82 L244.00,132.06 L244.83,131.20 L245.67,130.23 L246.50,129.17 L247.33,128.02 L248.16,126.78 L248.99,125.47 L249.83,124.07 L250.66,122.61 L251.49,121.08 L252.32,119.49 L253.16,117.85 L253.99,116.15 L254.82,114.41 L255.66,112.62 L256.49,110.81 L257.32,108.96 L258.15,107.08 L258.98,105.18 L259.82,103.27 L260.65,101.35 L261.48,99.42 L262.31,97.49 L263.15,95.57 L263.98,93.65 L264.81,91.75 L265.64,89.87 L266.48,88.01 L267.31,86.18 L268.14,84.39 L268.98,82.63 L269.81,80.92 L270.64,79.26 L271.47,77.65 L272.31,76.10 L273.14,74.61 L273.97,73.20 L274.80,71.86 L275.63,70.59 L276.47,69.41 L277.30,68.32 L278.13,67.33 L278.97,66.43 L279.80,65.63 L280.63,64.94 L281.46,64.35 L282.29,63.87 L283.13,63.51 L283.96,63.26 L284.79,63.14 L285.62,63.13 L286.46,63.26 L287.29,63.51 L288.12,63.89 L288.96,64.42 L289.79,65.08 L290.62,65.88 L291.45,66.83 L292.28,67.93 L293.12,69.18 L293.95,70.59 L294.78,72.16 L295.62,73.88 L296.45,75.78 L297.28,77.84 L298.11,80.07 L298.94,82.48 L299.78,85.07 L300.61,87.84 L301.44,90.79 L302.27,93.93 L303.11,97.26 L303.94,100.79 L304.77,104.52 L305.61,108.44 L306.44,112.57 L307.27,116.91 L308.10,121.46 L308.93,126.22 L309.77,131.20 L310.60,136.40" fill="none" stroke="#9acd32" stroke-width="1.1" opacity="0.55"/>
<path d="M77.50,134.54 L78.33,134.49 L79.17,134.44 L80.00,134.40 L80.83,134.36 L81.66,134.32 L82.49,134.29 L83.33,134.25 L84.16,134.22 L84.99,134.20 L85.83,134.17 L86.66,134.15 L87.49,134.13 L88.32,134.11 L89.16,134.09 L89.99,134.08 L90.82,134.07 L91.65,134.05 L92.48,134.05 L93.32,134.04 L94.15,134.03 L94.98,134.02 L95.82,134.02 L96.65,134.02 L97.48,134.02 L98.31,134.01 L99.14,134.01 L99.98,134.01 L100.81,134.02 L101.64,134.02 L102.47,134.02 L103.31,134.02 L104.14,134.02 L104.97,134.03 L105.81,134.03 L106.64,134.03 L107.47,134.04 L108.30,134.04 L109.13,134.04 L109.97,134.04 L110.80,134.04 L111.63,134.04 L112.47,134.04 L113.30,134.04 L114.13,134.04 L114.96,134.04 L115.79,134.04 L116.63,134.03 L117.46,134.03 L118.29,134.02 L119.12,134.01 L119.96,134.00 L120.79,133.99 L121.62,133.98 L122.46,133.96 L123.29,133.95 L124.12,133.93 L124.95,133.91 L125.78,133.88 L126.62,133.86 L127.45,133.83 L128.28,133.80 L129.12,133.77 L129.95,133.74 L130.78,133.70 L131.61,133.66 L132.44,133.62 L133.28,133.57 L134.11,133.52 L134.94,133.47 L135.77,133.42 L136.61,133.36 L137.44,133.30 L138.27,133.23 L139.11,133.17 L139.94,133.09 L140.77,133.02 L141.60,132.94 L142.43,132.86 L143.27,132.77 L144.10,132.68 L144.93,132.59 L145.77,132.49 L146.60,132.38 L147.43,132.27 L148.26,132.16 L149.09,132.05 L149.93,131.92 L150.76,131.80 L151.59,131.66 L152.43,131.53 L153.26,131.38 L154.09,131.24 L154.92,131.08 L155.76,130.92 L156.59,130.76 L157.42,130.59 L158.25,130.41 L159.08,130.23 L159.92,130.04 L160.75,129.84 L161.58,129.64 L162.42,129.43 L163.25,129.21 L164.08,128.99 L164.91,128.76 L165.74,128.52 L166.58,128.27 L167.41,128.02 L168.24,127.76 L169.07,127.50 L169.91,127.22 L170.74,126.94 L171.57,126.65 L172.41,126.35 L173.24,126.04 L174.07,125.72 L174.90,125.40 L175.73,125.06 L176.57,124.72 L177.40,124.37 L178.23,124.01 L179.06,123.64 L179.90,123.27 L180.73,122.89 L181.56,122.51 L182.39,122.13 L183.23,121.74 L184.06,121.36 L184.89,120.98 L185.72,120.60 L186.56,120.23 L187.39,119.87 L188.22,119.51 L189.06,119.16 L189.89,118.83 L190.72,118.50 L191.55,118.19 L192.38,117.90 L193.22,117.62 L194.05,117.36 L194.88,117.12 L195.72,116.90 L196.55,116.71 L197.38,116.53 L198.21,116.39 L199.04,116.26 L199.88,116.17 L200.71,116.11 L201.54,116.08 L202.38,116.08 L203.21,116.11 L204.04,116.18 L204.87,116.28 L205.71,116.43 L206.54,116.61 L207.37,116.84 L208.20,117.10 L209.03,117.41 L209.87,117.77 L210.70,118.17 L211.53,118.62 L212.37,119.12 L213.20,119.65 L214.03,120.22 L214.86,120.82 L215.69,121.45 L216.53,122.11 L217.36,122.78 L218.19,123.48 L219.02,124.18 L219.86,124.89 L220.69,125.61 L221.52,126.33 L222.36,127.04 L223.19,127.75 L224.02,128.45 L224.85,129.13 L225.68,129.79 L226.52,130.43 L227.35,131.04 L228.18,131.62 L229.02,132.16 L229.85,132.67 L230.68,133.13 L231.51,133.55 L232.34,133.91 L233.18,134.22 L234.01,134.47 L234.84,134.66 L235.67,134.78 L236.51,134.83 L237.34,134.81 L238.17,134.70 L239.01,134.52 L239.84,134.24 L240.67,133.88 L241.50,133.42 L242.33,132.86 L243.17,132.21 L244.00,131.44 L244.83,130.57 L245.67,129.59 L246.50,128.51 L247.33,127.33 L248.16,126.07 L248.99,124.72 L249.83,123.29 L250.66,121.79 L251.49,120.22 L252.32,118.58 L253.16,116.89 L253.99,115.14 L254.82,113.35 L255.66,111.51 L256.49,109.64 L257.32,107.73 L258.15,105.79 L258.98,103.84 L259.82,101.86 L260.65,99.88 L261.48,97.89 L262.31,95.89 L263.15,93.90 L263.98,91.92 L264.81,89.96 L265.64,88.01 L266.48,86.09 L267.31,84.20 L268.14,82.34 L268.98,80.52 L269.81,78.75 L270.64,77.03 L271.47,75.37 L272.31,73.77 L273.14,72.23 L273.97,70.76 L274.80,69.37 L275.63,68.07 L276.47,66.85 L277.30,65.72 L278.13,64.69 L278.97,63.76 L279.80,62.93 L280.63,62.22 L281.46,61.61 L282.29,61.12 L283.13,60.74 L283.96,60.49 L284.79,60.36 L285.62,60.36 L286.46,60.49 L287.29,60.75 L288.12,61.15 L288.96,61.69 L289.79,62.38 L290.62,63.22 L291.45,64.20 L292.28,65.34 L293.12,66.64 L293.95,68.11 L294.78,69.73 L295.62,71.52 L296.45,73.49 L297.28,75.63 L298.11,77.95 L298.94,80.45 L299.78,83.13 L300.61,86.01 L301.44,89.07 L302.27,92.33 L303.11,95.79 L303.94,99.45 L304.77,103.32 L305.61,107.39 L306.44,111.67 L307.27,116.18 L308.10,120.90 L308.93,125.84 L309.77,131.00 L310.60,136.40" fill="none" stroke="#a526f2" stroke-width="1.1" opacity="0.55"/>
<path d="M77.50,134.29 L78.33,134.25 L79.17,134.22 L80.00,134.19 L80.83,134.16 L81.66,134.13 L82.49,134.10 L83.33,134.08 L84.16,134.05 L84.99,134.03 L85.83,134.01 L86.66,133.99 L87.49,133.98 L88.32,133.96 L89.16,133.95 L89.99,133.94 L90.82,133.92 L91.65,133.91 L92.48,133.90 L93.32,133.89 L94.15,133.89 L94.98,133.88 L95.82,133.87 L96.65,133.87 L97.48,133.86 L98.31,133.86 L99.14,133.85 L99.98,133.85 L100.81,133.85 L101.64,133.84 L102.47,133.84 L103.31,133.84 L104.14,133.83 L104.97,133.83 L105.81,133.83 L106.64,133.82 L107.47,133.82 L108.30,133.81 L109.13,133.81 L109.97,133.80 L110.80,133.80 L111.63,133.79 L112.47,133.78 L113.30,133.77 L114.13,133.76 L114.96,133.75 L115.79,133.74 L116.63,133.73 L117.46,133.71 L118.29,133.70 L119.12,133.68 L119.96,133.66 L120.79,133.64 L121.62,133.62 L122.46,133.60 L123.29,133.58 L124.12,133.55 L124.95,133.53 L125.78,133.50 L126.62,133.47 L127.45,133.44 L128.28,133.40 L129.12,133.36 L129.95,133.33 L130.78,133.29 L131.61,133.24 L132.44,133.20 L133.28,133.15 L134.11,133.10 L134.94,133.05 L135.77,133.00 L136.61,132.94 L137.44,132.88 L138.27,132.82 L139.11,132.76 L139.94,132.69 L140.77,132.62 L141.60,132.54 L142.43,132.47 L143.27,132.39 L144.10,132.31 L144.93,132.22 L145.77,132.13 L146.60,132.04 L147.43,131.95 L148.26,131.85 L149.09,131.75 L149.93,131.64 L150.76,131.53 L151.59,131.41 L152.43,131.29 L153.26,131.17 L154.09,131.04 L154.92,130.91 L155.76,130.77 L156.59,130.63 L157.42,130.48 L158.25,130.33 L159.08,130.17 L159.92,130.00 L160.75,129.83 L161.58,129.65 L162.42,129.47 L163.25,129.28 L164.08,129.09 L164.91,128.89 L165.74,128.68 L166.58,128.46 L167.41,128.24 L168.24,128.01 L169.07,127.78 L169.91,127.53 L170.74,127.28 L171.57,127.02 L172.41,126.76 L173.24,126.48 L174.07,126.20 L174.90,125.91 L175.73,125.61 L176.57,125.31 L177.40,124.99 L178.23,124.67 L179.06,124.34 L179.90,124.00 L180.73,123.66 L181.56,123.31 L182.39,122.96 L183.23,122.62 L184.06,122.27 L184.89,121.92 L185.72,121.58 L186.56,121.24 L187.39,120.90 L188.22,120.57 L189.06,120.26 L189.89,119.95 L190.72,119.65 L191.55,119.36 L192.38,119.09 L193.22,118.83 L194.05,118.58 L194.88,118.36 L195.72,118.15 L196.55,117.96 L197.38,117.79 L198.21,117.65 L199.04,117.53 L199.88,117.43 L200.71,117.36 L201.54,117.32 L202.38,117.31 L203.21,117.32 L204.04,117.37 L204.87,117.45 L205.71,117.57 L206.54,117.72 L207.37,117.90 L208.20,118.13 L209.03,118.39 L209.87,118.69 L210.70,119.04 L211.53,119.43 L212.37,119.86 L213.20,120.32 L214.03,120.82 L214.86,121.34 L215.69,121.89 L216.53,122.47 L217.36,123.06 L218.19,123.67 L219.02,124.29 L219.86,124.92 L220.69,125.55 L221.52,126.19 L222.36,126.82 L223.19,127.45 L224.02,128.07 L224.85,128.68 L225.68,129.27 L226.52,129.85 L227.35,130.40 L228.18,130.92 L229.02,131.42 L229.85,131.88 L230.68,132.31 L231.51,132.70 L232.34,133.05 L233.18,133.34 L234.01,133.59 L234.84,133.79 L235.67,133.93 L236.51,134.01 L237.34,134.02 L238.17,133.97 L239.01,133.85 L239.84,133.65 L240.67,133.38 L241.50,133.02 L242.33,132.58 L243.17,132.06 L244.00,131.44 L244.83,130.73 L245.67,129.93 L246.50,129.04 L247.33,128.07 L248.16,127.03 L248.99,125.91 L249.83,124.72 L250.66,123.47 L251.49,122.17 L252.32,120.80 L253.16,119.39 L253.99,117.93 L254.82,116.43 L255.66,114.89 L256.49,113.32 L257.32,111.72 L258.15,110.10 L258.98,108.46 L259.82,106.80 L260.65,105.13 L261.48,103.46 L262.31,101.78 L263.15,100.11 L263.98,98.44 L264.81,96.79 L265.64,95.15 L266.48,93.53 L267.31,91.94 L268.14,90.38 L268.98,88.85 L269.81,87.36 L270.64,85.91 L271.47,84.51 L272.31,83.16 L273.14,81.86 L273.97,80.63 L274.80,79.46 L275.63,78.36 L276.47,77.33 L277.30,76.38 L278.13,75.52 L278.97,74.74 L279.80,74.04 L280.63,73.44 L281.46,72.93 L282.29,72.52 L283.13,72.21 L283.96,72.00 L284.79,71.89 L285.62,71.90 L286.46,72.01 L287.29,72.24 L288.12,72.58 L288.96,73.05 L289.79,73.63 L290.62,74.35 L291.45,75.19 L292.28,76.16 L293.12,77.26 L293.95,78.50 L294.78,79.88 L295.62,81.41 L296.45,83.07 L297.28,84.89 L298.11,86.86 L298.94,88.98 L299.78,91.25 L300.61,93.69 L301.44,96.29 L302.27,99.05 L303.11,101.98 L303.94,105.09 L304.77,108.36 L305.61,111.82 L306.44,115.45 L307.27,119.26 L308.10,123.26 L308.93,127.45 L309.77,131.83 L310.60,136.40" fill="none" stroke="#1a1aff" stroke-width="1.1" opacity="0.55"/>
<path d="M77.50,135.04 L78.33,135.00 L79.17,134.96 L80.00,134.93 L80.83,134.90 L81.66,134.87 L82.49,134.84 L83.33,134.81 L84.16,134.79 L84.99,134.77 L85.83,134.75 L86.66,134.73 L87.49,134.71 L88.32,134.70 L89.16,134.68 L89.99,134.67 L90.82,134.66 L91.65,134.65 L92.48,134.64 L93.32,134.63 L94.15,134.62 L94.98,134.61 L95.82,134.61 L96.65,134.60 L97.48,134.60 L98.31,134.59 L99.14,134.59 L99.98,134.59 L100.81,134.58 L101.64,134.58 L102.47,134.58 L103.31,134.57 L104.14,134.57 L104.97,134.57 L105.81,134.57 L106.64,134.56 L107.47,134.56 L108.30,134.56 L109.13,134.55 L109.97,134.55 L110.80,134.54 L111.63,134.53 L112.47,134.53 L113.30,134.52 L114.13,134.51 L114.96,134.50 L115.79,134.49 L116.63,134.48 L117.46,134.46 L118.29,134.45 L119.12,134.43 L119.96,134.42 L120.79,134.40 L121.62,134.38 L122.46,134.36 L123.29,134.33 L124.12,134.31 L124.95,134.28 L125.78,134.25 L126.62,134.22 L127.45,134.19 L128.28,134.16 L129.12,134.12 L129.95,134.08 L130.78,134.04 L131.61,134.00 L132.44,133.96 L133.28,133.91 L134.11,133.86 L134.94,133.81 L135.77,133.75 L136.61,133.70 L137.44,133.64 L138.27,133.57 L139.11,133.51 L139.94,133.44 L140.77,133.37 L141.60,133.29 L142.43,133.22 L143.27,133.14 L144.10,133.05 L144.93,132.96 L145.77,132.87 L146.60,132.78 L147.43,132.68 L148.26,132.58 L149.09,132.48 L149.93,132.37 L150.76,132.25 L151.59,132.14 L152.43,132.01 L153.26,131.89 L154.09,131.76 L154.92,131.62 L155.76,131.48 L156.59,131.33 L157.42,131.18 L158.25,131.02 L159.08,130.86 L159.92,130.69 L160.75,130.52 L161.58,130.34 L162.42,130.15 L163.25,129.96 L164.08,129.76 L164.91,129.55 L165.74,129.34 L166.58,129.12 L167.41,128.90 L168.24,128.67 L169.07,128.43 L169.91,128.18 L170.74,127.93 L171.57,127.66 L172.41,127.40 L173.24,127.12 L174.07,126.83 L174.90,126.54 L175.73,126.24 L176.57,125.93 L177.40,125.61 L178.23,125.29 L179.06,124.95 L179.90,124.61 L180.73,124.27 L181.56,123.92 L182.39,123.57 L183.23,123.22 L184.06,122.87 L184.89,122.52 L185.72,122.18 L186.56,121.84 L187.39,121.50 L188.22,121.17 L189.06,120.85 L189.89,120.54 L190.72,120.24 L191.55,119.95 L192.38,119.68 L193.22,119.42 L194.05,119.18 L194.88,118.95 L195.72,118.74 L196.55,118.55 L197.38,118.39 L198.21,118.24 L199.04,118.12 L199.88,118.03 L200.71,117.96 L201.54,117.92 L202.38,117.91 L203.21,117.92 L204.04,117.97 L204.87,118.06 L205.71,118.17 L206.54,118.32 L207.37,118.51 L208.20,118.74 L209.03,119.01 L209.87,119.31 L210.70,119.66 L211.53,120.05 L212.37,120.48 L213.20,120.95 L214.03,121.45 L214.86,121.98 L215.69,122.53 L216.53,123.11 L217.36,123.70 L218.19,124.32 L219.02,124.94 L219.86,125.57 L220.69,126.21 L221.52,126.85 L222.36,127.48 L223.19,128.12 L224.02,128.74 L224.85,129.35 L225.68,129.95 L226.52,130.52 L227.35,131.07 L228.18,131.60 L229.02,132.10 L229.85,132.56 L230.68,132.99 L231.51,133.38 L232.34,133.73 L233.18,134.02 L234.01,134.27 L234.84,134.47 L235.67,134.60 L236.51,134.68 L237.34,134.69 L238.17,134.63 L239.01,134.51 L239.84,134.31 L240.67,134.03 L241.50,133.67 L242.33,133.22 L243.17,132.69 L244.00,132.06 L244.83,131.34 L245.67,130.53 L246.50,129.63 L247.33,128.65 L248.16,127.60 L248.99,126.47 L249.83,125.27 L250.66,124.00 L251.49,122.68 L252.32,121.30 L253.16,119.88 L253.99,118.40 L254.82,116.88 L255.66,115.33 L256.49,113.74 L257.32,112.13 L258.15,110.49 L258.98,108.83 L259.82,107.15 L260.65,105.47 L261.48,103.78 L262.31,102.08 L263.15,100.39 L263.98,98.71 L264.81,97.04 L265.64,95.38 L266.48,93.75 L267.31,92.14 L268.14,90.56 L268.98,89.01 L269.81,87.50 L270.64,86.04 L271.47,84.62 L272.31,83.25 L273.14,81.94 L273.97,80.69 L274.80,79.50 L275.63,78.39 L276.47,77.35 L277.30,76.38 L278.13,75.50 L278.97,74.71 L279.80,74.00 L280.63,73.39 L281.46,72.87 L282.29,72.44 L283.13,72.12 L283.96,71.90 L284.79,71.79 L285.62,71.78 L286.46,71.89 L287.29,72.11 L288.12,72.44 L288.96,72.90 L289.79,73.48 L290.62,74.19 L291.45,75.03 L292.28,75.99 L293.12,77.09 L293.95,78.33 L294.78,79.71 L295.62,81.24 L296.45,82.90 L297.28,84.72 L298.11,86.69 L298.94,88.82 L299.78,91.10 L300.61,93.54 L301.44,96.15 L302.27,98.92 L303.11,101.86 L303.94,104.97 L304.77,108.26 L305.61,111.72 L306.44,115.37 L307.27,119.19 L308.10,123.21 L308.93,127.41 L309.77,131.81 L310.60,136.40" fill="none" stroke="#22ee22" stroke-width="1.1" opacity="0.55"/>
<circle cx="77.50" cy="137.39" r="0.75" fill="#111111" opacity="0.75"/>
<circle cx="110.80" cy="136.77" r="0.75" fill="#111111" opacity="0.75"/>
<circle cx="144.10" cy="135.78" r="0.75" fill="#111111" opacity="0.75"/>
<circle cx="177.40" cy="128.96" r="0.75" fill="#111111" opacity="0.75"/>
<circle cx="210.70" cy="123.38" r="0.75" fill="#111111" opacity="0.75"/>
<circle cx="244.00" cy="132.68" r="0.75" fill="#111111" opacity="0.75"/>
<circle cx="277.30" cy="57.29" r="0.75" fill="#111111" opacity="0.75"/>
<circle cx="310.60" cy="136.40" r="0.75" fill="#111111" opacity="0.75"/>
<circle cx="77.50" cy="135.78" r="0.75" fill="#7b3f8f" opacity="0.75"/>
<circle cx="110.80" cy="135.28" r="0.75" fill="#7b3f8f" opacity="0.75"/>
<circle cx="144.10" cy="133.92" r="0.75" fill="#7b3f8f" opacity="0.75"/>
<circle cx="177.40" cy="126.23" r="0.75" fill="#7b3f8f" opacity="0.75"/>
<circle cx="210.70" cy="120.28" r="0.75" fill="#7b3f8f" opacity="0.75"/>
<circle cx="244.00" cy="132.06" r="0.75" fill="#7b3f8f" opacity="0.75"/>
<circle cx="277.30" cy="65.72" r="0.75" fill="#7b3f8f" opacity="0.75"/>
<circle cx="310.60" cy="136.40" r="0.75" fill="#7b3f8f" opacity="0.75"/>
<circle cx="77.50" cy="137.64" r="0.75" fill="#D2691E" opacity="0.75"/>
<circle cx="110.80" cy="137.02" r="0.75" fill="#D2691E" opacity="0.75"/>
<circle cx="144.10" cy="136.03" r="0.75" fill="#D2691E" opacity="0.75"/>
<circle cx="177.40" cy="129.33" r="0.75" fill="#D2691E" opacity="0.75"/>
<circle cx="210.70" cy="123.63" r="0.75" fill="#D2691E" opacity="0.75"/>
<circle cx="244.00" cy="132.68" r="0.75" fill="#D2691E" opacity="0.75"/>
<circle cx="277.30" cy="63.24" r="0.75" fill="#D2691E" opacity="0.75"/>
<circle cx="310.60" cy="136.40" r="0.75" fill="#D2691E" opacity="0.75"/>
<circle cx="77.50" cy="137.27" r="0.75" fill="#ff6a10" opacity="0.75"/>
<circle cx="110.80" cy="136.77" r="0.75" fill="#ff6a10" opacity="0.75"/>
<circle cx="144.10" cy="135.53" r="0.75" fill="#ff6a10" opacity="0.75"/>
<circle cx="177.40" cy="128.71" r="0.75" fill="#ff6a10" opacity="0.75"/>
<circle cx="210.70" cy="123.13" r="0.75" fill="#ff6a10" opacity="0.75"/>
<circle cx="244.00" cy="132.68" r="0.75" fill="#ff6a10" opacity="0.75"/>
<circle cx="277.30" cy="63.24" r="0.75" fill="#ff6a10" opacity="0.75"/>
<circle cx="310.60" cy="136.40" r="0.75" fill="#ff6a10" opacity="0.75"/>
<circle cx="77.50" cy="137.02" r="0.75" fill="#f5c814" opacity="0.75"/>
<circle cx="110.80" cy="136.52" r="0.75" fill="#f5c814" opacity="0.75"/>
<circle cx="144.10" cy="135.28" r="0.75" fill="#f5c814" opacity="0.75"/>
<circle cx="177.40" cy="128.09" r="0.75" fill="#f5c814" opacity="0.75"/>
<circle cx="210.70" cy="122.39" r="0.75" fill="#f5c814" opacity="0.75"/>
<circle cx="244.00" cy="132.56" r="0.75" fill="#f5c814" opacity="0.75"/>
<circle cx="277.30" cy="59.52" r="0.75" fill="#f5c814" opacity="0.75"/>
<circle cx="310.60" cy="136.40" r="0.75" fill="#f5c814" opacity="0.75"/>
<circle cx="77.50" cy="136.28" r="0.75" fill="#cccccc" opacity="0.75"/>
<circle cx="110.80" cy="135.78" r="0.75" fill="#cccccc" opacity="0.75"/>
<circle cx="144.10" cy="134.54" r="0.75" fill="#cccccc" opacity="0.75"/>
<circle cx="177.40" cy="127.10" r="0.75" fill="#cccccc" opacity="0.75"/>
<circle cx="210.70" cy="121.15" r="0.75" fill="#cccccc" opacity="0.75"/>
<circle cx="244.00" cy="132.31" r="0.75" fill="#cccccc" opacity="0.75"/>
<circle cx="277.30" cy="85.44" r="0.75" fill="#cccccc" opacity="0.75"/>
<circle cx="310.60" cy="136.40" r="0.75" fill="#cccccc" opacity="0.75"/>
<circle cx="77.50" cy="136.52" r="0.75" fill="#ffee00" opacity="0.75"/>
<circle cx="110.80" cy="136.03" r="0.75" fill="#ffee00" opacity="0.75"/>
<circle cx="144.10" cy="134.79" r="0.75" fill="#ffee00" opacity="0.75"/>
<circle cx="177.40" cy="127.47" r="0.75" fill="#ffee00" opacity="0.75"/>
<circle cx="210.70" cy="121.52" r="0.75" fill="#ffee00" opacity="0.75"/>
<circle cx="244.00" cy="132.31" r="0.75" fill="#ffee00" opacity="0.75"/>
<circle cx="277.30" cy="59.27" r="0.75" fill="#ffee00" opacity="0.75"/>
<circle cx="310.60" cy="136.40" r="0.75" fill="#ffee00" opacity="0.75"/>
<circle cx="77.50" cy="135.78" r="0.75" fill="#c8f27a" opacity="0.75"/>
<circle cx="110.80" cy="135.28" r="0.75" fill="#c8f27a" opacity="0.75"/>
<circle cx="144.10" cy="133.80" r="0.75" fill="#c8f27a" opacity="0.75"/>
<circle cx="177.40" cy="126.23" r="0.75" fill="#c8f27a" opacity="0.75"/>
<circle cx="210.70" cy="120.28" r="0.75" fill="#c8f27a" opacity="0.75"/>
<circle cx="244.00" cy="132.06" r="0.75" fill="#c8f27a" opacity="0.75"/>
<circle cx="277.30" cy="59.27" r="0.75" fill="#c8f27a" opacity="0.75"/>
<circle cx="310.60" cy="136.40" r="0.75" fill="#c8f27a" opacity="0.75"/>
<circle cx="77.50" cy="135.53" r="0.75" fill="#9acd32" opacity="0.75"/>
<circle cx="110.80" cy="135.04" r="0.75" fill="#9acd32" opacity="0.75"/>
<circle cx="144.10" cy="133.55" r="0.75" fill="#9acd32" opacity="0.75"/>
<circle cx="177.40" cy="126.23" r="0.75" fill="#9acd32" opacity="0.75"/>
<circle cx="210.70" cy="120.28" r="0.75" fill="#9acd32" opacity="0.75"/>
<circle cx="244.00" cy="132.06" r="0.75" fill="#9acd32" opacity="0.75"/>
<circle cx="277.30" cy="68.32" r="0.75" fill="#9acd32" opacity="0.75"/>
<circle cx="310.60" cy="136.40" r="0.75" fill="#9acd32" opacity="0.75"/>
<circle cx="77.50" cy="134.54" r="0.75" fill="#a526f2" opacity="0.75"/>
<circle cx="110.80" cy="134.04" r="0.75" fill="#a526f2" opacity="0.75"/>
<circle cx="144.10" cy="132.68" r="0.75" fill="#a526f2" opacity="0.75"/>
<circle cx="177.40" cy="124.37" r="0.75" fill="#a526f2" opacity="0.75"/>
<circle cx="210.70" cy="118.17" r="0.75" fill="#a526f2" opacity="0.75"/>
<circle cx="244.00" cy="131.44" r="0.75" fill="#a526f2" opacity="0.75"/>
<circle cx="277.30" cy="65.72" r="0.75" fill="#a526f2" opacity="0.75"/>
<circle cx="310.60" cy="136.40" r="0.75" fill="#a526f2" opacity="0.75"/>
<circle cx="77.50" cy="134.29" r="0.75" fill="#1a1aff" opacity="0.75"/>
<circle cx="110.80" cy="133.80" r="0.75" fill="#1a1aff" opacity="0.75"/>
<circle cx="144.10" cy="132.31" r="0.75" fill="#1a1aff" opacity="0.75"/>
<circle cx="177.40" cy="124.99" r="0.75" fill="#1a1aff" opacity="0.75"/>
<circle cx="210.70" cy="119.04" r="0.75" fill="#1a1aff" opacity="0.75"/>
<circle cx="244.00" cy="131.44" r="0.75" fill="#1a1aff" opacity="0.75"/>
<circle cx="277.30" cy="76.38" r="0.75" fill="#1a1aff" opacity="0.75"/>
<circle cx="310.60" cy="136.40" r="0.75" fill="#1a1aff" opacity="0.75"/>
<circle cx="77.50" cy="135.04" r="0.75" fill="#22ee22" opacity="0.75"/>
<circle cx="110.80" cy="134.54" r="0.75" fill="#22ee22" opacity="0.75"/>
<circle cx="144.10" cy="133.05" r="0.75" fill="#22ee22" opacity="0.75"/>
<circle cx="177.40" cy="125.61" r="0.75" fill="#22ee22" opacity="0.75"/>
<circle cx="210.70" cy="119.66" r="0.75" fill="#22ee22" opacity="0.75"/>
<circle cx="244.00" cy="132.06" r="0.75" fill="#22ee22" opacity="0.75"/>
<circle cx="277.30" cy="76.38" r="0.75" fill="#22ee22" opacity="0.75"/>
<circle cx="310.60" cy="136.40" r="0.75" fill="#22ee22" opacity="0.75"/>
<line x1="83.9" y1="20.0" x2="104.3" y2="20.0" stroke="#D2691E" stroke-width="1.4"/><path d="M93.9,18.1 l1.9,1.9 l-1.9,1.9 l-1.9,-1.9 z" fill="#D2691E"/><text x="112.0" y="22.7" font-size="9" fill="#111">AA156_24h1</text>
<line x1="83.9" y1="34.1" x2="106.0" y2="34.1" stroke="#1a1aff" stroke-width="1.8"/><circle cx="95.2" cy="34.1" r="2.6" fill="#1a1aff"/><text x="112.0" y="37.1" font-size="9" fill="#111">AA156_24h2</text>
<line x1="85.2" y1="48.7" x2="106.9" y2="48.7" stroke="#c8f27a" stroke-width="1.2"/><circle cx="96.0" cy="48.7" r="1.4" fill="#c8f27a"/><text x="112.0" y="51.4" font-size="9" fill="#111">AA156_24h3</text>
<line x1="85.6" y1="63.2" x2="107.8" y2="63.2" stroke="#a526f2" stroke-width="1.6"/><circle cx="96.9" cy="63.2" r="2.6" fill="#a526f2"/><text x="114.0" y="65.8" font-size="9" fill="#111">AA237_24h1</text>
<line x1="86.9" y1="76.4" x2="108.2" y2="76.4" stroke="#9acd32" stroke-width="1.4"/><circle cx="97.8" cy="76.4" r="2.2" fill="#9acd32"/><text x="112.0" y="79.9" font-size="9" fill="#111">AA237_24h2</text>
<line x1="85.6" y1="91.6" x2="109.5" y2="91.6" stroke="#22ee22" stroke-width="1.8"/><circle cx="97.8" cy="91.6" r="2.6" fill="#22ee22"/><text x="112.0" y="95.0" font-size="9" fill="#111">AA237_24h3</text>
<line x1="189.9" y1="18.5" x2="211.2" y2="18.5" stroke="#ffee00" stroke-width="1.4"/><circle cx="200.3" cy="18.5" r="1.8" fill="#ffee00"/><text x="216.0" y="22.4" font-size="9" fill="#111">CK156_24h1</text>
<line x1="191.2" y1="32.8" x2="209.9" y2="32.8" stroke="#111111" stroke-width="1.2"/><circle cx="200.3" cy="32.8" r="1.8" fill="#111111"/><text x="216.0" y="37.0" font-size="9" fill="#111">CK156_24h2</text>
<line x1="191.2" y1="47.1" x2="211.6" y2="47.1" stroke="#7b3f8f" stroke-width="1.2"/><circle cx="201.2" cy="47.1" r="1.8" fill="#7b3f8f"/><text x="216.0" y="51.2" font-size="9" fill="#111">CK156_24h3</text>
<line x1="190.8" y1="61.8" x2="212.0" y2="61.8" stroke="#f5c814" stroke-width="1.4"/><circle cx="201.4" cy="61.8" r="1.8" fill="#f5c814"/><text x="216.0" y="65.2" font-size="9" fill="#111">CK237_24h1</text>
<line x1="191.2" y1="77.9" x2="213.8" y2="77.9" stroke="#ff6a10" stroke-width="1.6"/><circle cx="202.5" cy="77.9" r="2.6" fill="#ff6a10"/><text x="216.0" y="81.4" font-size="9" fill="#111">CK237_24h2</text>
<line x1="191.6" y1="94.1" x2="215.0" y2="94.1" stroke="#cccccc" stroke-width="1.6"/><circle cx="204.2" cy="94.1" r="2.6" fill="#cccccc"/><text x="216.0" y="96.5" font-size="9" fill="#111">CK237_24h3</text>
<text x="7.6" y="193.0" font-size="14" fill="#000">B</text>
<text x="117.4" y="190.2" font-size="8" font-weight="bold" fill="#000">Heatmap</text>
<rect x="2.00" y="208.50" width="43.83" height="6.57" fill="#FDD88A"/>
<rect x="45.83" y="208.50" width="43.83" height="6.57" fill="#EE5F3C"/>
<rect x="89.67" y="208.50" width="43.83" height="6.57" fill="#F06A40"/>
<rect x="133.50" y="208.50" width="43.83" height="6.57" fill="#5A8CC8"/>
<rect x="177.33" y="208.50" width="43.83" height="6.57" fill="#6A9FD0"/>
<rect x="221.17" y="208.50" width="43.83" height="6.57" fill="#4468B5"/>
<rect x="2.00" y="215.07" width="43.83" height="6.57" fill="#FDB86E"/>
<rect x="45.83" y="215.07" width="43.83" height="6.57" fill="#FDC57A"/>
<rect x="89.67" y="215.07" width="43.83" height="6.57" fill="#D93328"/>
<rect x="133.50" y="215.07" width="43.83" height="6.57" fill="#A8D4EA"/>
<rect x="177.33" y="215.07" width="43.83" height="6.57" fill="#4A74BC"/>
<rect x="221.17" y="215.07" width="43.83" height="6.57" fill="#3A52A8"/>
<rect x="2.00" y="221.63" width="43.83" height="6.57" fill="#FDD88A"/>
<rect x="45.83" y="221.63" width="43.83" height="6.57" fill="#F47A48"/>
<rect x="89.67" y="221.63" width="43.83" height="6.57" fill="#EC5A3A"/>
<rect x="133.50" y="221.63" width="43.83" height="6.57" fill="#5A8CC8"/>
<rect x="177.33" y="221.63" width="43.83" height="6.57" fill="#6A9FD0"/>
<rect x="221.17" y="221.63" width="43.83" height="6.57" fill="#4A74BC"/>
<rect x="2.00" y="228.20" width="43.83" height="6.57" fill="#FDD88A"/>
<rect x="45.83" y="228.20" width="43.83" height="6.57" fill="#F47A48"/>
<rect x="89.67" y="228.20" width="43.83" height="6.57" fill="#EC5A3A"/>
<rect x="133.50" y="228.20" width="43.83" height="6.57" fill="#5A8CC8"/>
<rect x="177.33" y="228.20" width="43.83" height="6.57" fill="#6A9FD0"/>
<rect x="221.17" y="228.20" width="43.83" height="6.57" fill="#4A74BC"/>
<rect x="2.00" y="234.76" width="43.83" height="6.57" fill="#E8503A"/>
<rect x="45.83" y="234.76" width="43.83" height="6.57" fill="#FEE8A0"/>
<rect x="89.67" y="234.76" width="43.83" height="6.57" fill="#F26A40"/>
<rect x="133.50" y="234.76" width="43.83" height="6.57" fill="#70A5D3"/>
<rect x="177.33" y="234.76" width="43.83" height="6.57" fill="#3E5EB0"/>
<rect x="221.17" y="234.76" width="43.83" height="6.57" fill="#6A9FD0"/>
<rect x="2.00" y="241.33" width="43.83" height="6.57" fill="#F8834E"/>
<rect x="45.83" y="241.33" width="43.83" height="6.57" fill="#D93328"/>
<rect x="89.67" y="241.33" width="43.83" height="6.57" fill="#FEEBA5"/>
<rect x="133.50" y="241.33" width="43.83" height="6.57" fill="#3E66B5"/>
<rect x="177.33" y="241.33" width="43.83" height="6.57" fill="#80B5DC"/>
<rect x="221.17" y="241.33" width="43.83" height="6.57" fill="#6A9FD0"/>
<rect x="2.00" y="247.90" width="43.83" height="6.57" fill="#B8102A"/>
<rect x="45.83" y="247.90" width="43.83" height="6.57" fill="#FDC57E"/>
<rect x="89.67" y="247.90" width="43.83" height="6.57" fill="#FDD590"/>
<rect x="133.50" y="247.90" width="43.83" height="6.57" fill="#70A5D3"/>
<rect x="177.33" y="247.90" width="43.83" height="6.57" fill="#6A9FD0"/>
<rect x="221.17" y="247.90" width="43.83" height="6.57" fill="#4A74BC"/>
<rect x="2.00" y="254.46" width="43.83" height="6.57" fill="#FEEBA8"/>
<rect x="45.83" y="254.46" width="43.83" height="6.57" fill="#FDD590"/>
<rect x="89.67" y="254.46" width="43.83" height="6.57" fill="#B50E2A"/>
<rect x="133.50" y="254.46" width="43.83" height="6.57" fill="#A8D4EA"/>
<rect x="177.33" y="254.46" width="43.83" height="6.57" fill="#5A88C5"/>
<rect x="221.17" y="254.46" width="43.83" height="6.57" fill="#4A74BC"/>
<rect x="2.00" y="261.03" width="43.83" height="6.57" fill="#FEE6A0"/>
<rect x="45.83" y="261.03" width="43.83" height="6.57" fill="#B50E2A"/>
<rect x="89.67" y="261.03" width="43.83" height="6.57" fill="#FDCB82"/>
<rect x="133.50" y="261.03" width="43.83" height="6.57" fill="#5080C2"/>
<rect x="177.33" y="261.03" width="43.83" height="6.57" fill="#6FA5D3"/>
<rect x="221.17" y="261.03" width="43.83" height="6.57" fill="#72AAD5"/>
<rect x="2.00" y="267.59" width="43.83" height="6.57" fill="#FEE6A0"/>
<rect x="45.83" y="267.59" width="43.83" height="6.57" fill="#B50E2A"/>
<rect x="89.67" y="267.59" width="43.83" height="6.57" fill="#FDD590"/>
<rect x="133.50" y="267.59" width="43.83" height="6.57" fill="#5080C2"/>
<rect x="177.33" y="267.59" width="43.83" height="6.57" fill="#6FA5D3"/>
<rect x="221.17" y="267.59" width="43.83" height="6.57" fill="#72AAD5"/>
<rect x="2.00" y="274.16" width="43.83" height="6.57" fill="#FEDD90"/>
<rect x="45.83" y="274.16" width="43.83" height="6.57" fill="#F99A58"/>
<rect x="89.67" y="274.16" width="43.83" height="6.57" fill="#E44A36"/>
<rect x="133.50" y="274.16" width="43.83" height="6.57" fill="#F2F8D8"/>
<rect x="177.33" y="274.16" width="43.83" height="6.57" fill="#3545A0"/>
<rect x="221.17" y="274.16" width="43.83" height="6.57" fill="#3A4CA5"/>
<rect x="2.00" y="280.73" width="43.83" height="6.57" fill="#FEE6A0"/>
<rect x="45.83" y="280.73" width="43.83" height="6.57" fill="#B50E2A"/>
<rect x="89.67" y="280.73" width="43.83" height="6.57" fill="#FDD590"/>
<rect x="133.50" y="280.73" width="43.83" height="6.57" fill="#6A9FD0"/>
<rect x="177.33" y="280.73" width="43.83" height="6.57" fill="#78B0DA"/>
<rect x="221.17" y="280.73" width="43.83" height="6.57" fill="#5080C2"/>
<rect x="2.00" y="287.29" width="43.83" height="6.57" fill="#FEF7CC"/>
<rect x="45.83" y="287.29" width="43.83" height="6.57" fill="#D42E28"/>
<rect x="89.67" y="287.29" width="43.83" height="6.57" fill="#F26A40"/>
<rect x="133.50" y="287.29" width="43.83" height="6.57" fill="#6A9FD0"/>
<rect x="177.33" y="287.29" width="43.83" height="6.57" fill="#72AAD5"/>
<rect x="221.17" y="287.29" width="43.83" height="6.57" fill="#4A78C0"/>
<rect x="2.00" y="293.86" width="43.83" height="6.57" fill="#4A78C0"/>
<rect x="45.83" y="293.86" width="43.83" height="6.57" fill="#6595CB"/>
<rect x="89.67" y="293.86" width="43.83" height="6.57" fill="#5A8CC8"/>
<rect x="133.50" y="293.86" width="43.83" height="6.57" fill="#FCA05A"/>
<rect x="177.33" y="293.86" width="43.83" height="6.57" fill="#FCA05A"/>
<rect x="221.17" y="293.86" width="43.83" height="6.57" fill="#E8503A"/>
<rect x="2.00" y="300.42" width="43.83" height="6.57" fill="#5A8CC8"/>
<rect x="45.83" y="300.42" width="43.83" height="6.57" fill="#5A8CC8"/>
<rect x="89.67" y="300.42" width="43.83" height="6.57" fill="#5080C2"/>
<rect x="133.50" y="300.42" width="43.83" height="6.57" fill="#E8503A"/>
<rect x="177.33" y="300.42" width="43.83" height="6.57" fill="#F88C50"/>
<rect x="221.17" y="300.42" width="43.83" height="6.57" fill="#FDC07A"/>
<rect x="2.00" y="306.99" width="43.83" height="6.57" fill="#5A8CC8"/>
<rect x="45.83" y="306.99" width="43.83" height="6.57" fill="#5A8CC8"/>
<rect x="89.67" y="306.99" width="43.83" height="6.57" fill="#5A8CC8"/>
<rect x="133.50" y="306.99" width="43.83" height="6.57" fill="#FCA05A"/>
<rect x="177.33" y="306.99" width="43.83" height="6.57" fill="#E0443A"/>
<rect x="221.17" y="306.99" width="43.83" height="6.57" fill="#FDC07A"/>
<rect x="2.00" y="313.56" width="43.83" height="6.57" fill="#5585C5"/>
<rect x="45.83" y="313.56" width="43.83" height="6.57" fill="#5A8CC8"/>
<rect x="89.67" y="313.56" width="43.83" height="6.57" fill="#5A8CC8"/>
<rect x="133.50" y="313.56" width="43.83" height="6.57" fill="#FDD590"/>
<rect x="177.33" y="313.56" width="43.83" height="6.57" fill="#E44A38"/>
<rect x="221.17" y="313.56" width="43.83" height="6.57" fill="#F88C50"/>
<rect x="2.00" y="320.12" width="43.83" height="6.57" fill="#C8E8F2"/>
<rect x="45.83" y="320.12" width="43.83" height="6.57" fill="#4A78C0"/>
<rect x="89.67" y="320.12" width="43.83" height="6.57" fill="#33409A"/>
<rect x="133.50" y="320.12" width="43.83" height="6.57" fill="#FDC07A"/>
<rect x="177.33" y="320.12" width="43.83" height="6.57" fill="#D42E28"/>
<rect x="221.17" y="320.12" width="43.83" height="6.57" fill="#FEE09A"/>
<rect x="2.00" y="326.69" width="43.83" height="6.57" fill="#80B5DC"/>
<rect x="45.83" y="326.69" width="43.83" height="6.57" fill="#33409A"/>
<rect x="89.67" y="326.69" width="43.83" height="6.57" fill="#85BCE0"/>
<rect x="133.50" y="326.69" width="43.83" height="6.57" fill="#FDC07A"/>
<rect x="177.33" y="326.69" width="43.83" height="6.57" fill="#D42E28"/>
<rect x="221.17" y="326.69" width="43.83" height="6.57" fill="#FEE6A2"/>
<rect x="2.00" y="333.25" width="43.83" height="6.57" fill="#80B5DC"/>
<rect x="45.83" y="333.25" width="43.83" height="6.57" fill="#33409A"/>
<rect x="89.67" y="333.25" width="43.83" height="6.57" fill="#85BCE0"/>
<rect x="133.50" y="333.25" width="43.83" height="6.57" fill="#FDC07A"/>
<rect x="177.33" y="333.25" width="43.83" height="6.57" fill="#D42E28"/>
<rect x="221.17" y="333.25" width="43.83" height="6.57" fill="#FEE09A"/>
<rect x="2.00" y="339.82" width="43.83" height="6.57" fill="#6595CB"/>
<rect x="45.83" y="339.82" width="43.83" height="6.57" fill="#6A9FD0"/>
<rect x="89.67" y="339.82" width="43.83" height="6.57" fill="#5080C2"/>
<rect x="133.50" y="339.82" width="43.83" height="6.57" fill="#FDCB85"/>
<rect x="177.33" y="339.82" width="43.83" height="6.57" fill="#D83228"/>
<rect x="221.17" y="339.82" width="43.83" height="6.57" fill="#FDC07A"/>
<rect x="2.00" y="346.39" width="43.83" height="6.57" fill="#6595CB"/>
<rect x="45.83" y="346.39" width="43.83" height="6.57" fill="#6A9FD0"/>
<rect x="89.67" y="346.39" width="43.83" height="6.57" fill="#5080C2"/>
<rect x="133.50" y="346.39" width="43.83" height="6.57" fill="#FEE39B"/>
<rect x="177.33" y="346.39" width="43.83" height="6.57" fill="#D83228"/>
<rect x="221.17" y="346.39" width="43.83" height="6.57" fill="#FDB56B"/>
<rect x="2.00" y="352.95" width="43.83" height="6.57" fill="#85BCE0"/>
<rect x="45.83" y="352.95" width="43.83" height="6.57" fill="#4A78C0"/>
<rect x="89.67" y="352.95" width="43.83" height="6.57" fill="#5080C2"/>
<rect x="133.50" y="352.95" width="43.83" height="6.57" fill="#F78650"/>
<rect x="177.33" y="352.95" width="43.83" height="6.57" fill="#DA3628"/>
<rect x="221.17" y="352.95" width="43.83" height="6.57" fill="#FEF5CA"/>
<rect x="2.00" y="359.52" width="43.83" height="6.57" fill="#70A5D3"/>
<rect x="45.83" y="359.52" width="43.83" height="6.57" fill="#6A9FD0"/>
<rect x="89.67" y="359.52" width="43.83" height="6.57" fill="#4A78C0"/>
<rect x="133.50" y="359.52" width="43.83" height="6.57" fill="#EA5A3C"/>
<rect x="177.33" y="359.52" width="43.83" height="6.57" fill="#E0443A"/>
<rect x="221.17" y="359.52" width="43.83" height="6.57" fill="#FEF8D5"/>
<rect x="2.00" y="366.08" width="43.83" height="6.57" fill="#F8F8D5"/>
<rect x="45.83" y="366.08" width="43.83" height="6.57" fill="#3A50A5"/>
<rect x="89.67" y="366.08" width="43.83" height="6.57" fill="#3A50A5"/>
<rect x="133.50" y="366.08" width="43.83" height="6.57" fill="#E8553A"/>
<rect x="177.33" y="366.08" width="43.83" height="6.57" fill="#F47A48"/>
<rect x="221.17" y="366.08" width="43.83" height="6.57" fill="#FEF8C8"/>
<rect x="2.00" y="372.65" width="43.83" height="6.57" fill="#EEF5E5"/>
<rect x="45.83" y="372.65" width="43.83" height="6.57" fill="#4A74BC"/>
<rect x="89.67" y="372.65" width="43.83" height="6.57" fill="#3E5CB0"/>
<rect x="133.50" y="372.65" width="43.83" height="6.57" fill="#E24A38"/>
<rect x="177.33" y="372.65" width="43.83" height="6.57" fill="#F06A40"/>
<rect x="221.17" y="372.65" width="43.83" height="6.57" fill="#F0F8E0"/>
<rect x="2.00" y="379.21" width="43.83" height="6.57" fill="#5A8CC8"/>
<rect x="45.83" y="379.21" width="43.83" height="6.57" fill="#6A9FD0"/>
<rect x="89.67" y="379.21" width="43.83" height="6.57" fill="#6A9FD0"/>
<rect x="133.50" y="379.21" width="43.83" height="6.57" fill="#FEF8D0"/>
<rect x="177.33" y="379.21" width="43.83" height="6.57" fill="#DD3A2E"/>
<rect x="221.17" y="379.21" width="43.83" height="6.57" fill="#DD3A2E"/>
<rect x="2.00" y="385.78" width="43.83" height="6.57" fill="#F47A48"/>
<rect x="45.83" y="385.78" width="43.83" height="6.57" fill="#FCA05A"/>
<rect x="89.67" y="385.78" width="43.83" height="6.57" fill="#FCA05A"/>
<rect x="133.50" y="385.78" width="43.83" height="6.57" fill="#5A8CC8"/>
<rect x="177.33" y="385.78" width="43.83" height="6.57" fill="#5A8CC8"/>
<rect x="221.17" y="385.78" width="43.83" height="6.57" fill="#4A78C0"/>
<rect x="2.00" y="392.35" width="43.83" height="6.57" fill="#5A8CC8"/>
<rect x="45.83" y="392.35" width="43.83" height="6.57" fill="#5A8CC8"/>
<rect x="89.67" y="392.35" width="43.83" height="6.57" fill="#5A8CC8"/>
<rect x="133.50" y="392.35" width="43.83" height="6.57" fill="#FCA862"/>
<rect x="177.33" y="392.35" width="43.83" height="6.57" fill="#F06A40"/>
<rect x="221.17" y="392.35" width="43.83" height="6.57" fill="#F47A48"/>
<rect x="2.00" y="398.91" width="43.83" height="6.57" fill="#5A8CC8"/>
<rect x="45.83" y="398.91" width="43.83" height="6.57" fill="#5A8CC8"/>
<rect x="89.67" y="398.91" width="43.83" height="6.57" fill="#5A8CC8"/>
<rect x="133.50" y="398.91" width="43.83" height="6.57" fill="#FCA862"/>
<rect x="177.33" y="398.91" width="43.83" height="6.57" fill="#FCB56B"/>
<rect x="221.17" y="398.91" width="43.83" height="6.57" fill="#D83228"/>
<rect x="2.00" y="405.48" width="43.83" height="6.57" fill="#F88C50"/>
<rect x="45.83" y="405.48" width="43.83" height="6.57" fill="#FCA05A"/>
<rect x="89.67" y="405.48" width="43.83" height="6.57" fill="#F47A48"/>
<rect x="133.50" y="405.48" width="43.83" height="6.57" fill="#5A8CC8"/>
<rect x="177.33" y="405.48" width="43.83" height="6.57" fill="#5A8CC8"/>
<rect x="221.17" y="405.48" width="43.83" height="6.57" fill="#5A8CC8"/>
<rect x="2.00" y="412.04" width="43.83" height="6.57" fill="#DD3A2E"/>
<rect x="45.83" y="412.04" width="43.83" height="6.57" fill="#FEE39B"/>
<rect x="89.67" y="412.04" width="43.83" height="6.57" fill="#F8834E"/>
<rect x="133.50" y="412.04" width="43.83" height="6.57" fill="#5A8CC8"/>
<rect x="177.33" y="412.04" width="43.83" height="6.57" fill="#5A8CC8"/>
<rect x="221.17" y="412.04" width="43.83" height="6.57" fill="#5A8CC8"/>
<rect x="2.00" y="418.61" width="43.83" height="6.57" fill="#FEF5C0"/>
<rect x="45.83" y="418.61" width="43.83" height="6.57" fill="#F88C50"/>
<rect x="89.67" y="418.61" width="43.83" height="6.57" fill="#D42E28"/>
<rect x="133.50" y="418.61" width="43.83" height="6.57" fill="#5A8CC8"/>
<rect x="177.33" y="418.61" width="43.83" height="6.57" fill="#5A8CC8"/>
<rect x="221.17" y="418.61" width="43.83" height="6.57" fill="#5A8CC8"/>
<rect x="2.00" y="425.18" width="43.83" height="6.57" fill="#5A8CC8"/>
<rect x="45.83" y="425.18" width="43.83" height="6.57" fill="#5A8CC8"/>
<rect x="89.67" y="425.18" width="43.83" height="6.57" fill="#5A8CC8"/>
<rect x="133.50" y="425.18" width="43.83" height="6.57" fill="#D42E28"/>
<rect x="177.33" y="425.18" width="43.83" height="6.57" fill="#F47A48"/>
<rect x="221.17" y="425.18" width="43.83" height="6.57" fill="#FEF5C5"/>
<rect x="2.00" y="431.74" width="43.83" height="6.57" fill="#5A8CC8"/>
<rect x="45.83" y="431.74" width="43.83" height="6.57" fill="#5A8CC8"/>
<rect x="89.67" y="431.74" width="43.83" height="6.57" fill="#5A8CC8"/>
<rect x="133.50" y="431.74" width="43.83" height="6.57" fill="#FEF0B5"/>
<rect x="177.33" y="431.74" width="43.83" height="6.57" fill="#F8904F"/>
<rect x="221.17" y="431.74" width="43.83" height="6.57" fill="#C01A2A"/>
<rect x="2.00" y="438.31" width="43.83" height="6.57" fill="#5A8CC8"/>
<rect x="45.83" y="438.31" width="43.83" height="6.57" fill="#5A8CC8"/>
<rect x="89.67" y="438.31" width="43.83" height="6.57" fill="#5A8CC8"/>
<rect x="133.50" y="438.31" width="43.83" height="6.57" fill="#F47A48"/>
<rect x="177.33" y="438.31" width="43.83" height="6.57" fill="#E0443A"/>
<rect x="221.17" y="438.31" width="43.83" height="6.57" fill="#FEF8D5"/>
<rect x="2.00" y="444.87" width="43.83" height="6.57" fill="#5A8CC8"/>
<rect x="45.83" y="444.87" width="43.83" height="6.57" fill="#5A8CC8"/>
<rect x="89.67" y="444.87" width="43.83" height="6.57" fill="#5A8CC8"/>
<rect x="133.50" y="444.87" width="43.83" height="6.57" fill="#F99A55"/>
<rect x="177.33" y="444.87" width="43.83" height="6.57" fill="#FCA862"/>
<rect x="221.17" y="444.87" width="43.83" height="6.57" fill="#E8553C"/>
<rect x="2.00" y="451.44" width="43.83" height="6.57" fill="#FDD590"/>
<rect x="45.83" y="451.44" width="43.83" height="6.57" fill="#FDD590"/>
<rect x="89.67" y="451.44" width="43.83" height="6.57" fill="#C0102A"/>
<rect x="133.50" y="451.44" width="43.83" height="6.57" fill="#5A8CC8"/>
<rect x="177.33" y="451.44" width="43.83" height="6.57" fill="#5A8CC8"/>
<rect x="221.17" y="451.44" width="43.83" height="6.57" fill="#5A8CC8"/>
<rect x="2.00" y="458.01" width="43.83" height="6.57" fill="#5A8CC8"/>
<rect x="45.83" y="458.01" width="43.83" height="6.57" fill="#5A8CC8"/>
<rect x="89.67" y="458.01" width="43.83" height="6.57" fill="#5A8CC8"/>
<rect x="133.50" y="458.01" width="43.83" height="6.57" fill="#FCA05A"/>
<rect x="177.33" y="458.01" width="43.83" height="6.57" fill="#DD3A2E"/>
<rect x="221.17" y="458.01" width="43.83" height="6.57" fill="#FDC07A"/>
<rect x="2.00" y="464.57" width="43.83" height="6.57" fill="#F88C50"/>
<rect x="45.83" y="464.57" width="43.83" height="6.57" fill="#FDD08A"/>
<rect x="89.67" y="464.57" width="43.83" height="6.57" fill="#E8503A"/>
<rect x="133.50" y="464.57" width="43.83" height="6.57" fill="#5A8CC8"/>
<rect x="177.33" y="464.57" width="43.83" height="6.57" fill="#5A8CC8"/>
<rect x="221.17" y="464.57" width="43.83" height="6.57" fill="#5A8CC8"/>
<rect x="2.00" y="471.14" width="43.83" height="6.57" fill="#5A8CC8"/>
<rect x="45.83" y="471.14" width="43.83" height="6.57" fill="#5A8CC8"/>
<rect x="89.67" y="471.14" width="43.83" height="6.57" fill="#5A8CC8"/>
<rect x="133.50" y="471.14" width="43.83" height="6.57" fill="#FCA05A"/>
<rect x="177.33" y="471.14" width="43.83" height="6.57" fill="#C8142A"/>
<rect x="221.17" y="471.14" width="43.83" height="6.57" fill="#FEF8C5"/>
<rect x="2.00" y="477.70" width="43.83" height="6.57" fill="#5080C2"/>
<rect x="45.83" y="477.70" width="43.83" height="6.57" fill="#5A8CC8"/>
<rect x="89.67" y="477.70" width="43.83" height="6.57" fill="#5A8CC8"/>
<rect x="133.50" y="477.70" width="43.83" height="6.57" fill="#C8102A"/>
<rect x="177.33" y="477.70" width="43.83" height="6.57" fill="#FEE7A0"/>
<rect x="221.17" y="477.70" width="43.83" height="6.57" fill="#FCB56B"/>
<rect x="2.00" y="484.27" width="43.83" height="6.57" fill="#5A8CC8"/>
<rect x="45.83" y="484.27" width="43.83" height="6.57" fill="#5A8CC8"/>
<rect x="89.67" y="484.27" width="43.83" height="6.57" fill="#5080C2"/>
<rect x="133.50" y="484.27" width="43.83" height="6.57" fill="#F47A48"/>
<rect x="177.33" y="484.27" width="43.83" height="6.57" fill="#F88C50"/>
<rect x="221.17" y="484.27" width="43.83" height="6.57" fill="#FCB56B"/>
<rect x="2.00" y="490.84" width="43.83" height="6.57" fill="#5A8CC8"/>
<rect x="45.83" y="490.84" width="43.83" height="6.57" fill="#5A8CC8"/>
<rect x="89.67" y="490.84" width="43.83" height="6.57" fill="#5A8CC8"/>
<rect x="133.50" y="490.84" width="43.83" height="6.57" fill="#F99A55"/>
<rect x="177.33" y="490.84" width="43.83" height="6.57" fill="#E8553C"/>
<rect x="221.17" y="490.84" width="43.83" height="6.57" fill="#FDC07A"/>
<rect x="2.00" y="497.40" width="43.83" height="6.57" fill="#72AAD5"/>
<rect x="45.83" y="497.40" width="43.83" height="6.57" fill="#3545A0"/>
<rect x="89.67" y="497.40" width="43.83" height="6.57" fill="#A0CCE5"/>
<rect x="133.50" y="497.40" width="43.83" height="6.57" fill="#FEF5B8"/>
<rect x="177.33" y="497.40" width="43.83" height="6.57" fill="#FCA862"/>
<rect x="221.17" y="497.40" width="43.83" height="6.57" fill="#C0102A"/>
<rect x="2.00" y="503.97" width="43.83" height="6.57" fill="#FEF0B5"/>
<rect x="45.83" y="503.97" width="43.83" height="6.57" fill="#C0102A"/>
<rect x="89.67" y="503.97" width="43.83" height="6.57" fill="#FCA862"/>
<rect x="133.50" y="503.97" width="43.83" height="6.57" fill="#5A8CC8"/>
<rect x="177.33" y="503.97" width="43.83" height="6.57" fill="#5A8CC8"/>
<rect x="221.17" y="503.97" width="43.83" height="6.57" fill="#5A8CC8"/>
<rect x="2.00" y="510.53" width="43.83" height="6.57" fill="#FDDC95"/>
<rect x="45.83" y="510.53" width="43.83" height="6.57" fill="#FDC880"/>
<rect x="89.67" y="510.53" width="43.83" height="6.57" fill="#C0102A"/>
<rect x="133.50" y="510.53" width="43.83" height="6.57" fill="#5A8CC8"/>
<rect x="177.33" y="510.53" width="43.83" height="6.57" fill="#5A8CC8"/>
<rect x="221.17" y="510.53" width="43.83" height="6.57" fill="#5A8CC8"/>
<path d="M2.00,208.50H265.00M2.00,215.07H265.00M2.00,221.63H265.00M2.00,228.20H265.00M2.00,234.76H265.00M2.00,241.33H265.00M2.00,247.90H265.00M2.00,254.46H265.00M2.00,261.03H265.00M2.00,267.59H265.00M2.00,274.16H265.00M2.00,280.73H265.00M2.00,287.29H265.00M2.00,293.86H265.00M2.00,300.42H265.00M2.00,306.99H265.00M2.00,313.56H265.00M2.00,320.12H265.00M2.00,326.69H265.00M2.00,333.25H265.00M2.00,339.82H265.00M2.00,346.39H265.00M2.00,352.95H265.00M2.00,359.52H265.00M2.00,366.08H265.00M2.00,372.65H265.00M2.00,379.21H265.00M2.00,385.78H265.00M2.00,392.35H265.00M2.00,398.91H265.00M2.00,405.48H265.00M2.00,412.04H265.00M2.00,418.61H265.00M2.00,425.18H265.00M2.00,431.74H265.00M2.00,438.31H265.00M2.00,444.87H265.00M2.00,451.44H265.00M2.00,458.01H265.00M2.00,464.57H265.00M2.00,471.14H265.00M2.00,477.70H265.00M2.00,484.27H265.00M2.00,490.84H265.00M2.00,497.40H265.00M2.00,503.97H265.00M2.00,510.53H265.00M2.00,517.10H265.00M2.00,208.50V517.10M45.83,208.50V517.10M89.67,208.50V517.10M133.50,208.50V517.10M177.33,208.50V517.10M221.17,208.50V517.10M265.00,208.50V517.10" stroke="#999999" stroke-width="0.45" fill="none" opacity="0.55"/>
<text transform="translate(266.8,213.98) scale(0.9,1)" font-size="5.5" fill="#1a1a1a">zma-miR162-3p_R+1</text>
<text transform="translate(266.8,220.55) scale(0.9,1)" font-size="5.5" fill="#1a1a1a">zma-miR166l-3p</text>
<text transform="translate(266.8,227.11) scale(0.9,1)" font-size="5.5" fill="#1a1a1a">zma-miR319a-p5</text>
<text transform="translate(266.8,233.68) scale(0.9,1)" font-size="5.5" fill="#1a1a1a">zma-miR319c-p5</text>
<text transform="translate(266.8,240.25) scale(0.9,1)" font-size="5.5" fill="#1a1a1a">zma-miR167c-3p_L-1</text>
<text transform="translate(266.8,246.81) scale(0.9,1)" font-size="5.5" fill="#1a1a1a">zma-miR156a-5p</text>
<text transform="translate(266.8,253.38) scale(0.9,1)" font-size="5.5" fill="#1a1a1a">zma-miR164a-5p</text>
<text transform="translate(266.8,259.94) scale(0.9,1)" font-size="5.5" fill="#1a1a1a">zma-miR166a-3p</text>
<text transform="translate(266.8,266.51) scale(0.9,1)" font-size="5.5" fill="#1a1a1a">zma-miR319b-p5</text>
<text transform="translate(266.8,273.08) scale(0.9,1)" font-size="5.5" fill="#1a1a1a">zma-miR319d-p5</text>
<text transform="translate(266.8,279.64) scale(0.9,1)" font-size="5.5" fill="#1a1a1a">zma-miR167j-p3_2ss12AT20TA</text>
<text transform="translate(266.8,286.21) scale(0.9,1)" font-size="5.5" fill="#1a1a1a">zma-miR167e-5p</text>
<text transform="translate(266.8,292.77) scale(0.9,1)" font-size="5.5" fill="#1a1a1a">zma-miR444a_1ss12TC</text>
<text transform="translate(266.8,299.34) scale(0.9,1)" font-size="5.5" fill="#1a1a1a">zma-miR390a-5p</text>
<text transform="translate(266.8,305.91) scale(0.9,1)" font-size="5.5" fill="#1a1a1a">zma-miR398b-5p_R-1</text>
<text transform="translate(266.8,312.47) scale(0.9,1)" font-size="5.5" fill="#1a1a1a">zma-miR408a_L-1</text>
<text transform="translate(266.8,319.04) scale(0.9,1)" font-size="5.5" fill="#1a1a1a">zma-miR397b-p5</text>
<text transform="translate(266.8,325.60) scale(0.9,1)" font-size="5.5" fill="#1a1a1a">zma-miR169o-5p_R-1</text>
<text transform="translate(266.8,332.17) scale(0.9,1)" font-size="5.5" fill="#1a1a1a">zma-miR156c-3p_L+1_2ss14CA22TC</text>
<text transform="translate(266.8,338.74) scale(0.9,1)" font-size="5.5" fill="#1a1a1a">zma-miR156l-3p_L+1</text>
<text transform="translate(266.8,345.30) scale(0.9,1)" font-size="5.5" fill="#1a1a1a">zma-miR827-5p_L+1</text>
<text transform="translate(266.8,351.87) scale(0.9,1)" font-size="5.5" fill="#1a1a1a">zma-miR397a-5p</text>
<text transform="translate(266.8,358.43) scale(0.9,1)" font-size="5.5" fill="#1a1a1a">zma-miR396a-5p</text>
<text transform="translate(266.8,365.00) scale(0.9,1)" font-size="5.5" fill="#1a1a1a">zma-miR827-3p</text>
<text transform="translate(266.8,371.57) scale(0.9,1)" font-size="5.5" fill="#1a1a1a">zma-miR529-5p</text>
<text transform="translate(266.8,378.13) scale(0.9,1)" font-size="5.5" fill="#1a1a1a">zma-miR396c_L-1</text>
<text transform="translate(266.8,384.70) scale(0.9,1)" font-size="5.5" fill="#1a1a1a">zma-miR169o-3p_L-1R+1</text>
<text transform="translate(266.8,391.26) scale(0.9,1)" font-size="5.5" fill="#1a1a1a">PC-5p-8044_611(novel-miR1)</text>
<text transform="translate(266.8,397.83) scale(0.9,1)" font-size="5.5" fill="#1a1a1a">PC-5p-46450_101(novel-miR4)</text>
<text transform="translate(266.8,404.40) scale(0.9,1)" font-size="5.5" fill="#1a1a1a">PC-3p-91946_46(novel-miR8)</text>
<text transform="translate(266.8,410.96) scale(0.9,1)" font-size="5.5" fill="#1a1a1a">PC-5p-162391_23(novel-miR2)</text>
<text transform="translate(266.8,417.53) scale(0.9,1)" font-size="5.5" fill="#1a1a1a">PC-3p-24381_202(novel-miR10)</text>
<text transform="translate(266.8,424.09) scale(0.9,1)" font-size="5.5" fill="#1a1a1a">PC-5p-80184_54(novel-miR15)</text>
<text transform="translate(266.8,430.66) scale(0.9,1)" font-size="5.5" fill="#1a1a1a">PC-5p-71261_62(novel-miR16)</text>
<text transform="translate(266.8,437.23) scale(0.9,1)" font-size="5.5" fill="#1a1a1a">PC-5p-58549_78(novel-miR13)</text>
<text transform="translate(266.8,443.79) scale(0.9,1)" font-size="5.5" fill="#1a1a1a">PC-5p-150211_25(novel-miR20)</text>
<text transform="translate(266.8,450.36) scale(0.9,1)" font-size="5.5" fill="#1a1a1a">PC-3p-87703_49(novel-miR5)</text>
<text transform="translate(266.8,456.92) scale(0.9,1)" font-size="5.5" fill="#1a1a1a">PC-3p-46024_102(novel-miR14)</text>
<text transform="translate(266.8,463.49) scale(0.9,1)" font-size="5.5" fill="#1a1a1a">PC-3p-47955_98(novel-miR9)</text>
<text transform="translate(266.8,470.06) scale(0.9,1)" font-size="5.5" fill="#1a1a1a">PC-3p-77755_56(novel-miR6)</text>
<text transform="translate(266.8,476.62) scale(0.9,1)" font-size="5.5" fill="#1a1a1a">PC-3p-20927_237(novel-miR17)</text>
<text transform="translate(266.8,483.19) scale(0.9,1)" font-size="5.5" fill="#1a1a1a">PC-5p-26341_186(novel-miR11)</text>
<text transform="translate(266.8,489.75) scale(0.9,1)" font-size="5.5" fill="#1a1a1a">PC-5p-50720_92(novel-miR3)</text>
<text transform="translate(266.8,496.32) scale(0.9,1)" font-size="5.5" fill="#1a1a1a">PC-3p-123986_32(novel-miR7)</text>
<text transform="translate(266.8,502.89) scale(0.9,1)" font-size="5.5" fill="#1a1a1a">PC-5p-58650_78(novel-miR12)</text>
<text transform="translate(266.8,509.45) scale(0.9,1)" font-size="5.5" fill="#1a1a1a">PC-3p-25167_195(novel-miR19)</text>
<text transform="translate(266.8,516.02) scale(0.9,1)" font-size="5.5" fill="#1a1a1a">PC-3p-102177_41(novel-miR18)</text>
<text transform="translate(25.72,519.3) rotate(-90) scale(0.9,1)" text-anchor="end" font-size="5.5" fill="#1a1a1a">AA156_24h1</text>
<text transform="translate(69.55,519.3) rotate(-90) scale(0.9,1)" text-anchor="end" font-size="5.5" fill="#1a1a1a">AA156_24h2</text>
<text transform="translate(113.38,519.3) rotate(-90) scale(0.9,1)" text-anchor="end" font-size="5.5" fill="#1a1a1a">AA156_24h3</text>
<text transform="translate(157.22,519.3) rotate(-90) scale(0.9,1)" text-anchor="end" font-size="5.5" fill="#1a1a1a">AA237_24h1</text>
<text transform="translate(201.05,519.3) rotate(-90) scale(0.9,1)" text-anchor="end" font-size="5.5" fill="#1a1a1a">AA237_24h2</text>
<text transform="translate(244.88,519.3) rotate(-90) scale(0.9,1)" text-anchor="end" font-size="5.5" fill="#1a1a1a">AA237_24h3</text>
<defs><linearGradient id="cb" x1="0" y1="1" x2="0" y2="0"><stop offset="0" stop-color="#313695"/><stop offset="0.1" stop-color="#4575b4"/><stop offset="0.2" stop-color="#74add1"/><stop offset="0.3" stop-color="#abd9e9"/><stop offset="0.4" stop-color="#e0f3f8"/><stop offset="0.5" stop-color="#ffffbf"/><stop offset="0.6" stop-color="#fee090"/><stop offset="0.7" stop-color="#fdae61"/><stop offset="0.8" stop-color="#f46d43"/><stop offset="0.9" stop-color="#d73027"/><stop offset="1" stop-color="#a50026"/></linearGradient></defs>
<rect x="348.0" y="208.7" width="6.2" height="93.0" fill="url(#cb)"/>
<text x="357.2" y="214.7" font-size="6.6" fill="#222">1.5</text>
<text x="357.2" y="230.7" font-size="6.6" fill="#222">1</text>
<text x="357.2" y="246.9" font-size="6.6" fill="#222">0.5</text>
<text x="357.2" y="262.8" font-size="6.6" fill="#222">0</text>
<text x="357.2" y="279.0" font-size="6.6" fill="#222">-0.5</text>
<text x="357.2" y="295.2" font-size="6.6" fill="#222">-1</text>
</svg></body></html>
